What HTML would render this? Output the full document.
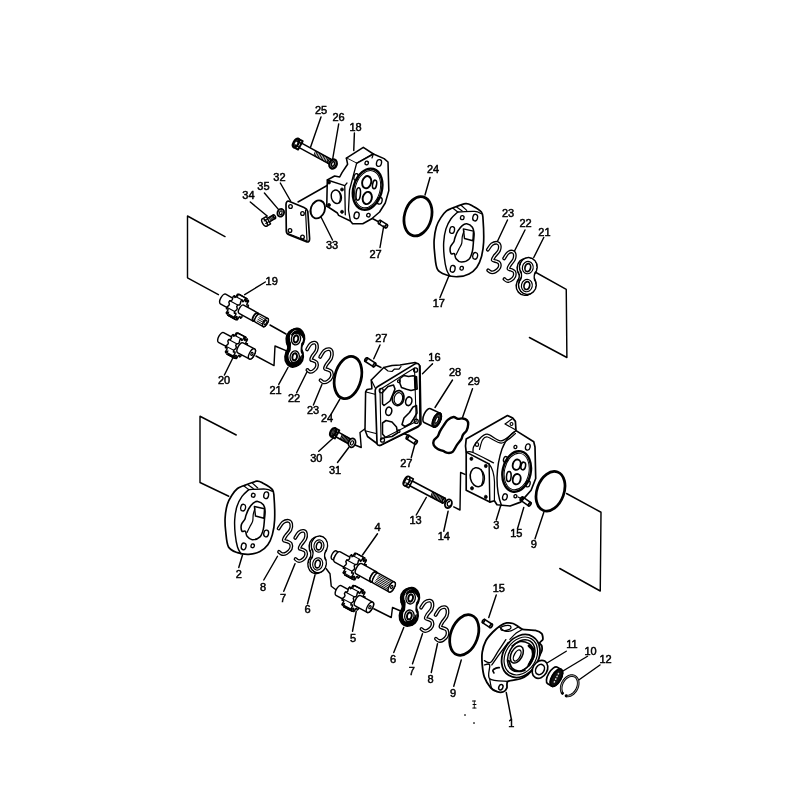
<!DOCTYPE html>
<html><head><meta charset="utf-8"><style>
html,body{margin:0;padding:0;background:#fff;}
svg{display:block;will-change:transform;}
text{font-family:"Liberation Sans",sans-serif;fill:#000;text-anchor:middle;stroke:#000;stroke-width:0.5;}
</style></head><body>
<svg width="800" height="800" viewBox="0 0 800 800">
<rect width="800" height="800" fill="#fff"/>
<path d="M321,117 L310.6,147" fill="none" stroke="#000" stroke-width="1.44" stroke-linejoin="round" stroke-linecap="round"/>
<path d="M338.7,124 L332.5,160" fill="none" stroke="#000" stroke-width="1.44" stroke-linejoin="round" stroke-linecap="round"/>
<path d="M354.4,133 L353.75,150.6" fill="none" stroke="#000" stroke-width="1.44" stroke-linejoin="round" stroke-linecap="round"/>
<path d="M280.3,183 L290.6,201" fill="none" stroke="#000" stroke-width="1.44" stroke-linejoin="round" stroke-linecap="round"/>
<path d="M264.4,193 L278.4,209.4" fill="none" stroke="#000" stroke-width="1.44" stroke-linejoin="round" stroke-linecap="round"/>
<path d="M250.3,202 L267.2,216" fill="none" stroke="#000" stroke-width="1.44" stroke-linejoin="round" stroke-linecap="round"/>
<path d="M298,202 L328,185" fill="none" stroke="#000" stroke-width="1.44" stroke-linejoin="round" stroke-linecap="round"/>
<path d="M332.5,240 L321,217" fill="none" stroke="#000" stroke-width="1.44" stroke-linejoin="round" stroke-linecap="round"/>
<path d="M380,247.5 L383.75,226" fill="none" stroke="#000" stroke-width="1.44" stroke-linejoin="round" stroke-linecap="round"/>
<path d="M380,222.5 L367.5,216" fill="none" stroke="#000" stroke-width="1.44" stroke-linejoin="round" stroke-linecap="round"/>
<path d="M430,177.5 L425,195" fill="none" stroke="#000" stroke-width="1.44" stroke-linejoin="round" stroke-linecap="round"/>
<path d="M448.75,276.25 L440,297.5" fill="none" stroke="#000" stroke-width="1.44" stroke-linejoin="round" stroke-linecap="round"/>
<path d="M507.5,220 L497.5,241.25" fill="none" stroke="#000" stroke-width="1.44" stroke-linejoin="round" stroke-linecap="round"/>
<path d="M525,230 L513.75,252.5" fill="none" stroke="#000" stroke-width="1.44" stroke-linejoin="round" stroke-linecap="round"/>
<path d="M543.75,237.5 L533.75,257.5" fill="none" stroke="#000" stroke-width="1.44" stroke-linejoin="round" stroke-linecap="round"/>
<path d="M533.75,271.25 L566.25,289.4 L566.9,357.5 L529.4,337.5" fill="none" stroke="#000" stroke-width="1.44" stroke-linejoin="round" stroke-linecap="round"/>
<path d="M225,236.6 L187.5,216 L187.5,277.8 L218.4,294.7" fill="none" stroke="#000" stroke-width="1.44" stroke-linejoin="round" stroke-linecap="round"/>
<path d="M265.3,282 L244.7,294.7" fill="none" stroke="#000" stroke-width="1.44" stroke-linejoin="round" stroke-linecap="round"/>
<path d="M270,325 L286,334" fill="none" stroke="#000" stroke-width="1.44" stroke-linejoin="round" stroke-linecap="round"/>
<path d="M256,356 L274,365.6 L275,346 L286,350.6" fill="none" stroke="#000" stroke-width="1.44" stroke-linejoin="round" stroke-linecap="round"/>
<path d="M232.8,358 L224.4,375" fill="none" stroke="#000" stroke-width="1.44" stroke-linejoin="round" stroke-linecap="round"/>
<path d="M288,367.5 L278.75,384.4" fill="none" stroke="#000" stroke-width="1.44" stroke-linejoin="round" stroke-linecap="round"/>
<path d="M306.9,372 L296.6,392.8" fill="none" stroke="#000" stroke-width="1.44" stroke-linejoin="round" stroke-linecap="round"/>
<path d="M321.9,384.4 L313.4,405" fill="none" stroke="#000" stroke-width="1.44" stroke-linejoin="round" stroke-linecap="round"/>
<path d="M339.7,399.4 L331,414.4" fill="none" stroke="#000" stroke-width="1.44" stroke-linejoin="round" stroke-linecap="round"/>
<path d="M380,345 L373.75,358.75" fill="none" stroke="#000" stroke-width="1.44" stroke-linejoin="round" stroke-linecap="round"/>
<path d="M376,365 L381,367.5" fill="none" stroke="#000" stroke-width="1.44" stroke-linejoin="round" stroke-linecap="round"/>
<path d="M432.5,363.75 L422.5,373.75" fill="none" stroke="#000" stroke-width="1.44" stroke-linejoin="round" stroke-linecap="round"/>
<path d="M452.5,380 L435,407.5" fill="none" stroke="#000" stroke-width="1.44" stroke-linejoin="round" stroke-linecap="round"/>
<path d="M472.5,388.75 L462.5,417.5" fill="none" stroke="#000" stroke-width="1.44" stroke-linejoin="round" stroke-linecap="round"/>
<path d="M411.25,457.5 L415,443.75" fill="none" stroke="#000" stroke-width="1.44" stroke-linejoin="round" stroke-linecap="round"/>
<path d="M407.5,435 L395,430" fill="none" stroke="#000" stroke-width="1.44" stroke-linejoin="round" stroke-linecap="round"/>
<path d="M318.75,451.25 L333.75,437.5" fill="none" stroke="#000" stroke-width="1.44" stroke-linejoin="round" stroke-linecap="round"/>
<path d="M337.5,462.5 L348.75,447.5" fill="none" stroke="#000" stroke-width="1.44" stroke-linejoin="round" stroke-linecap="round"/>
<path d="M355,445 L361.25,447.5 L360,432.5 L365,428.75" fill="none" stroke="#000" stroke-width="1.44" stroke-linejoin="round" stroke-linecap="round"/>
<path d="M426.25,497.5 L416.25,515" fill="none" stroke="#000" stroke-width="1.44" stroke-linejoin="round" stroke-linecap="round"/>
<path d="M448.1,511.25 L443.75,531.25" fill="none" stroke="#000" stroke-width="1.44" stroke-linejoin="round" stroke-linecap="round"/>
<path d="M453.75,506.9 L460,510 L460.6,472.5 L465,474.4" fill="none" stroke="#000" stroke-width="1.44" stroke-linejoin="round" stroke-linecap="round"/>
<path d="M501.25,503.75 L496.25,520" fill="none" stroke="#000" stroke-width="1.44" stroke-linejoin="round" stroke-linecap="round"/>
<path d="M523.75,507.5 L517.5,528.75" fill="none" stroke="#000" stroke-width="1.44" stroke-linejoin="round" stroke-linecap="round"/>
<path d="M543.75,512.5 L535,538.75" fill="none" stroke="#000" stroke-width="1.44" stroke-linejoin="round" stroke-linecap="round"/>
<path d="M566.5,493.5 L601,512.25 L600.25,591 L559.75,568.5" fill="none" stroke="#000" stroke-width="1.44" stroke-linejoin="round" stroke-linecap="round"/>
<path d="M236.25,435 L200,416.25 L200,482.5 L228.75,496.25" fill="none" stroke="#000" stroke-width="1.44" stroke-linejoin="round" stroke-linecap="round"/>
<path d="M242.5,555 L238.75,567.5" fill="none" stroke="#000" stroke-width="1.44" stroke-linejoin="round" stroke-linecap="round"/>
<path d="M277.5,556.25 L263.75,580" fill="none" stroke="#000" stroke-width="1.44" stroke-linejoin="round" stroke-linecap="round"/>
<path d="M295,563.75 L283.75,591.25" fill="none" stroke="#000" stroke-width="1.44" stroke-linejoin="round" stroke-linecap="round"/>
<path d="M315,575 L307.5,603.75" fill="none" stroke="#000" stroke-width="1.44" stroke-linejoin="round" stroke-linecap="round"/>
<path d="M377.5,533.75 L362.5,555" fill="none" stroke="#000" stroke-width="1.44" stroke-linejoin="round" stroke-linecap="round"/>
<path d="M326.25,568.75 L330,573.75 L331.25,586.25 L336.25,590" fill="none" stroke="#000" stroke-width="1.44" stroke-linejoin="round" stroke-linecap="round"/>
<path d="M356.25,611.25 L352.5,631.25" fill="none" stroke="#000" stroke-width="1.44" stroke-linejoin="round" stroke-linecap="round"/>
<path d="M373.75,608.75 L391.25,617.5 L392.5,607.5 L401.25,611.25" fill="none" stroke="#000" stroke-width="1.44" stroke-linejoin="round" stroke-linecap="round"/>
<path d="M403.75,627.5 L393.75,652.5" fill="none" stroke="#000" stroke-width="1.44" stroke-linejoin="round" stroke-linecap="round"/>
<path d="M422.5,633.75 L412.5,663.75" fill="none" stroke="#000" stroke-width="1.44" stroke-linejoin="round" stroke-linecap="round"/>
<path d="M437.5,643.75 L431.25,672.5" fill="none" stroke="#000" stroke-width="1.44" stroke-linejoin="round" stroke-linecap="round"/>
<path d="M461.25,660 L453.75,686.25" fill="none" stroke="#000" stroke-width="1.44" stroke-linejoin="round" stroke-linecap="round"/>
<path d="M496.25,595 L488.75,617.5" fill="none" stroke="#000" stroke-width="1.44" stroke-linejoin="round" stroke-linecap="round"/>
<path d="M506.25,692.5 L511.25,718.75" fill="none" stroke="#000" stroke-width="1.44" stroke-linejoin="round" stroke-linecap="round"/>
<path d="M566.25,651.25 L543.75,665" fill="none" stroke="#000" stroke-width="1.44" stroke-linejoin="round" stroke-linecap="round"/>
<path d="M587.5,656.25 L562.5,671.25" fill="none" stroke="#000" stroke-width="1.44" stroke-linejoin="round" stroke-linecap="round"/>
<path d="M600,665 L578.75,680" fill="none" stroke="#000" stroke-width="1.44" stroke-linejoin="round" stroke-linecap="round"/>
<ellipse cx="418" cy="216.25" rx="13.5" ry="20" transform="rotate(15 418 216.25)" fill="none" stroke="#000" stroke-width="2.76"/>
<ellipse cx="348" cy="377.5" rx="13.2" ry="21.5" transform="rotate(14 348 377.5)" fill="none" stroke="#000" stroke-width="2.76"/>
<ellipse cx="550.5" cy="491.25" rx="13.5" ry="20.5" transform="rotate(20 550.5 491.25)" fill="none" stroke="#000" stroke-width="2.76"/>
<ellipse cx="464.25" cy="635" rx="13.5" ry="21" transform="rotate(20 464.25 635)" fill="none" stroke="#000" stroke-width="2.76"/>
<ellipse cx="317.8" cy="209.4" rx="7" ry="9.2" transform="rotate(20 317.8 209.4)" fill="none" stroke="#000" stroke-width="1.92"/>
<g transform="translate(296 143) rotate(28.6)">
<path d="M5,-2.5 L38,-2.5 M5,2.5 L38,2.5" fill="none" stroke="#000" stroke-width="1.44" stroke-linejoin="round" stroke-linecap="round"/>
<ellipse cx="38" cy="0" rx="1.2" ry="2.5" transform="rotate(0 38 0)" fill="#fff" stroke="#000" stroke-width="1.44"/>
<path d="M0,-4.8 L5,-4.8 L5,4.8 L0,4.8" fill="#fff" stroke="#000" stroke-width="1.92" stroke-linejoin="round" stroke-linecap="round"/>
<ellipse cx="0" cy="0" rx="2.4" ry="4.8" transform="rotate(0 0 0)" fill="#333" stroke="#000" stroke-width="2.16"/>
<ellipse cx="0.3" cy="0.5" rx="1.0" ry="2.0" transform="rotate(0 0.3 0.5)" fill="#fff" stroke="#000" stroke-width="0.00"/>
<path d="M0,-2.16 L5,-2.16 M0,2.16 L5,2.16" fill="none" stroke="#000" stroke-width="1.44" stroke-linejoin="round" stroke-linecap="round"/>
<path d="M20.900000000000002,-2.5 L21.700000000000003,2.5 M22.500000000000004,-2.5 L23.300000000000004,2.5 M24.1,-2.5 L24.900000000000002,2.5 M25.700000000000003,-2.5 L26.500000000000004,2.5 M27.300000000000004,-2.5 L28.100000000000005,2.5 M28.900000000000002,-2.5 L29.700000000000003,2.5 M30.500000000000004,-2.5 L31.300000000000004,2.5 M32.1,-2.5 L32.9,2.5 M33.7,-2.5 L34.5,2.5 M35.300000000000004,-2.5 L36.1,2.5 " fill="none" stroke="#000" stroke-width="0.96" stroke-linejoin="round" stroke-linecap="round"/>
</g>
<ellipse cx="333" cy="164" rx="3.6" ry="4.6" transform="rotate(20 333 164)" fill="#fff" stroke="#000" stroke-width="2.40"/>
<ellipse cx="333" cy="164" rx="1.5" ry="2.3" transform="rotate(20 333 164)" fill="none" stroke="#000" stroke-width="1.56"/>
<path d="M346.4,158.2 L363.3,147.3 L373.4,154 L356.6,163.4 Z" fill="#fff" stroke="#000" stroke-width="1.56" stroke-linejoin="round" stroke-linecap="round"/>
<path d="M356.6,163.4 L373.4,154 L384.1,158.6 L388,162 L388.8,190.6 L385.25,203 L379.6,212 L371.75,218.75 L362.75,223.8 L352.6,223.8 L350.4,221 L338.6,215.4 L337.4,213 L329,207.5 L326.75,206.4 L327.3,180 L334.6,176 L339.7,177 L342,172.6 L347.6,164.2 L346.4,158.2" fill="#fff" stroke="#000" stroke-width="1.56" stroke-linejoin="round" stroke-linecap="round"/>
<path d="M356.6,163.4 L353.5,175 L349.5,190 L348.5,210 L350.4,221" fill="none" stroke="#000" stroke-width="1.32" stroke-linejoin="round" stroke-linecap="round"/>
<path d="M373.4,154 L372,158" fill="none" stroke="#000" stroke-width="1.20" stroke-linejoin="round" stroke-linecap="round"/>
<path d="M327.3,180 L344.75,185.6 L345.3,214.8" fill="none" stroke="#000" stroke-width="1.32" stroke-linejoin="round" stroke-linecap="round"/>
<path d="M344.75,185.6 L347,183" fill="none" stroke="#000" stroke-width="1.20" stroke-linejoin="round" stroke-linecap="round"/>
<ellipse cx="329" cy="182.5" rx="1.5" ry="1.6" transform="rotate(0 329 182.5)" fill="#000" stroke="#000" stroke-width="0.72"/>
<ellipse cx="342" cy="189.5" rx="1.5" ry="1.6" transform="rotate(0 342 189.5)" fill="#000" stroke="#000" stroke-width="0.72"/>
<ellipse cx="329" cy="205" rx="1.5" ry="1.6" transform="rotate(0 329 205)" fill="#000" stroke="#000" stroke-width="0.72"/>
<ellipse cx="342" cy="211.8" rx="1.5" ry="1.6" transform="rotate(0 342 211.8)" fill="#000" stroke="#000" stroke-width="0.72"/>
<ellipse cx="336.3" cy="196.8" rx="5" ry="6.8" transform="rotate(-15 336.3 196.8)" fill="none" stroke="#000" stroke-width="1.44"/>
<path d="M339,191.5 Q342,197 339,203" fill="none" stroke="#000" stroke-width="1.20" stroke-linejoin="round" stroke-linecap="round"/>
<ellipse cx="367.6" cy="189.2" rx="14.2" ry="21" transform="rotate(16 367.6 189.2)" fill="none" stroke="#000" stroke-width="2.40"/>
<ellipse cx="367.6" cy="189.2" rx="12.4" ry="19" transform="rotate(16 367.6 189.2)" fill="none" stroke="#000" stroke-width="0.96"/>
<ellipse cx="366.7" cy="182.2" rx="4.5" ry="6.2" transform="rotate(15 366.7 182.2)" fill="none" stroke="#000" stroke-width="1.92"/>
<ellipse cx="367.25" cy="198" rx="4.5" ry="6.2" transform="rotate(15 367.25 198)" fill="none" stroke="#000" stroke-width="1.92"/>
<ellipse cx="374.6" cy="184.4" rx="2" ry="4.3" transform="rotate(10 374.6 184.4)" fill="none" stroke="#000" stroke-width="1.56"/>
<ellipse cx="358.25" cy="194" rx="2.2" ry="6.2" transform="rotate(5 358.25 194)" fill="none" stroke="#000" stroke-width="1.56"/>
<ellipse cx="366.7" cy="163" rx="1.7" ry="1.8" transform="rotate(15 366.7 163)" fill="none" stroke="#000" stroke-width="1.32"/>
<ellipse cx="379" cy="163" rx="2.5" ry="3.4" transform="rotate(15 379 163)" fill="none" stroke="#000" stroke-width="1.32"/>
<ellipse cx="356" cy="177" rx="2" ry="3.4" transform="rotate(15 356 177)" fill="none" stroke="#000" stroke-width="1.32"/>
<ellipse cx="379.6" cy="200.75" rx="2.5" ry="3.4" transform="rotate(15 379.6 200.75)" fill="none" stroke="#000" stroke-width="1.32"/>
<ellipse cx="356.6" cy="215.4" rx="2.5" ry="3.4" transform="rotate(15 356.6 215.4)" fill="none" stroke="#000" stroke-width="1.32"/>
<ellipse cx="368.4" cy="215.15" rx="1.7" ry="1.8" transform="rotate(15 368.4 215.15)" fill="none" stroke="#000" stroke-width="1.32"/>
<g transform="translate(379.5 222) rotate(32)">
<path d="M0,-1.8 L8,-1.8 M0,1.8 L8,1.8" fill="none" stroke="#000" stroke-width="1.44" stroke-linejoin="round" stroke-linecap="round"/>
<ellipse cx="0" cy="0" rx="1" ry="1.8" transform="rotate(0 0 0)" fill="#fff" stroke="#000" stroke-width="1.44"/>
<ellipse cx="8" cy="0" rx="1.1" ry="1.8" transform="rotate(0 8 0)" fill="#fff" stroke="#000" stroke-width="1.68"/>
</g>
<path d="M289,201.3 L304,207.5 Q307,208.7 307.8,211.5 L309.6,238.5 Q309.8,242 307,242 L289.5,235 Q286.3,233.8 286.3,231 L286,204.5 Q286.2,200.5 289,201.3 Z" fill="#fff" stroke="#000" stroke-width="1.68" stroke-linejoin="round" stroke-linecap="round"/>
<path d="M305.5,210 L307,240.5" fill="none" stroke="#000" stroke-width="1.20" stroke-linejoin="round" stroke-linecap="round"/>
<path d="M288,233.5 L306.5,240.8" fill="none" stroke="#000" stroke-width="1.08" stroke-linejoin="round" stroke-linecap="round"/>
<ellipse cx="290.5" cy="206.5" rx="1.8" ry="1.9" transform="rotate(0 290.5 206.5)" fill="none" stroke="#000" stroke-width="1.32"/>
<ellipse cx="302.5" cy="213.5" rx="1.8" ry="1.9" transform="rotate(0 302.5 213.5)" fill="none" stroke="#000" stroke-width="1.32"/>
<ellipse cx="290" cy="230.5" rx="1.8" ry="1.9" transform="rotate(0 290 230.5)" fill="none" stroke="#000" stroke-width="1.32"/>
<ellipse cx="302.5" cy="237" rx="1.8" ry="1.9" transform="rotate(0 302.5 237)" fill="none" stroke="#000" stroke-width="1.32"/>
<g transform="translate(264.5 222.5) rotate(-30.6)">
<path d="M4,-2 L11.5,-2 M4,2 L11.5,2" fill="none" stroke="#000" stroke-width="1.44" stroke-linejoin="round" stroke-linecap="round"/>
<ellipse cx="11.5" cy="0" rx="0.9" ry="2" transform="rotate(0 11.5 0)" fill="#fff" stroke="#000" stroke-width="1.44"/>
<path d="M6.0,-2 L6.7,2 M7.4,-2 L8.1,2 M8.8,-2 L9.5,2 M10.2,-2 L10.899999999999999,2 " fill="none" stroke="#000" stroke-width="0.96" stroke-linejoin="round" stroke-linecap="round"/>
<path d="M0,-4.3 L4.5,-4.3 L4.5,4.3 L0,4.3" fill="#fff" stroke="#000" stroke-width="1.44" stroke-linejoin="round" stroke-linecap="round"/>
<ellipse cx="0" cy="0" rx="2" ry="4.3" transform="rotate(0 0 0)" fill="#fff" stroke="#000" stroke-width="1.44"/>
<path d="M0.5,-1.5 L4.5,-1.5 M0.5,1.5 L4.5,1.5" fill="none" stroke="#000" stroke-width="1.08" stroke-linejoin="round" stroke-linecap="round"/>
</g>
<ellipse cx="280.75" cy="212.75" rx="3.2" ry="3.9" transform="rotate(20 280.75 212.75)" fill="#fff" stroke="#000" stroke-width="1.92"/>
<ellipse cx="280.75" cy="212.75" rx="1.3" ry="2" transform="rotate(20 280.75 212.75)" fill="none" stroke="#000" stroke-width="1.20"/>
<path d="M452.68,208.09 C455.87,206.87 462.34,203.97 465.62,203.59 C468.90,203.22 469.75,204.44 472.37,205.84 C475.00,207.25 479.59,209.68 481.37,212.02 C483.15,214.36 482.69,214.84 483.06,219.90 C483.44,224.96 483.90,236.20 483.62,242.39 C483.34,248.58 482.50,252.89 481.37,257.02 C480.25,261.14 478.93,264.33 476.87,267.14 C474.81,269.95 472.18,272.30 468.99,273.89 C465.80,275.48 461.50,276.51 457.75,276.70 C454.00,276.89 449.88,276.24 446.50,275.02 C443.12,273.80 439.47,272.95 437.50,269.39 C435.53,265.83 435.25,258.51 434.69,253.64 C434.13,248.76 433.84,244.64 434.12,240.14 C434.40,235.64 435.25,230.40 436.37,226.65 C437.50,222.90 439.18,220.28 440.87,217.65 C442.56,215.03 444.53,212.49 446.50,210.90 C448.47,209.31 449.49,209.31 452.68,208.09 Z" fill="#fff" stroke="#000" stroke-width="1.68" stroke-linejoin="round" stroke-linecap="round"/>
<path d="M457.75,212.02 C456.62,213.15 452.97,215.96 451.00,218.77 C449.03,221.58 447.15,224.96 445.93,228.90 C444.71,232.84 443.97,237.70 443.69,242.39 C443.41,247.08 443.78,252.52 444.25,257.02 C444.72,261.52 445.56,266.20 446.50,269.39 C447.44,272.58 449.31,275.01 449.87,276.14" fill="none" stroke="#000" stroke-width="1.44" stroke-linejoin="round" stroke-linecap="round"/>
<path d="M457.75,212.02 C460.56,211.93 470.68,211.18 474.62,211.46 C478.56,211.74 480.25,213.34 481.37,213.71" fill="none" stroke="#000" stroke-width="1.32" stroke-linejoin="round" stroke-linecap="round"/>
<path d="M452.68,208.09 L457.75,212.02 M456.62,206.96 L462.25,210.9 M461.12,205.27 L466.74,210.34" fill="none" stroke="#000" stroke-width="1.20" stroke-linejoin="round" stroke-linecap="round"/>
<path d="M466.74,223.83 C468.43,224.11 471.15,225.62 472.37,227.21 C473.59,228.81 473.87,231.06 474.06,233.40 C474.25,235.74 473.77,238.27 473.49,241.27 C473.21,244.27 473.12,248.39 472.37,251.39 C471.62,254.39 470.87,257.49 468.99,259.27 C467.12,261.05 463.27,262.17 461.12,262.08 C458.97,261.99 457.19,260.11 456.06,258.70 C454.94,257.29 455.21,254.48 454.37,253.64 C453.53,252.80 451.66,254.76 451.00,253.64 C450.34,252.51 449.96,248.86 450.43,246.89 C450.90,244.92 453.06,243.33 453.81,241.83 C454.56,240.33 454.27,239.67 454.93,237.89 C455.59,236.11 456.53,233.21 457.75,231.15 C458.97,229.09 460.75,226.74 462.25,225.52 C463.75,224.30 465.05,223.55 466.74,223.83 Z" fill="none" stroke="#000" stroke-width="1.56" stroke-linejoin="round" stroke-linecap="round"/>
<path d="M463.37,228.9 L473.49,231.15 L472.93,240.71 L464.49,238.46 Z" fill="none" stroke="#000" stroke-width="1.44" stroke-linejoin="round" stroke-linecap="round"/>
<path d="M463.93,231.15 C463.65,232.09 462.62,234.71 462.25,236.77 C461.88,238.83 462.24,241.46 461.68,243.52 C461.12,245.58 459.81,247.26 458.87,249.14 C457.93,251.01 456.53,253.83 456.06,254.77" fill="none" stroke="#000" stroke-width="1.20" stroke-linejoin="round" stroke-linecap="round"/>
<ellipse cx="462.25" cy="217.65" rx="1.8" ry="2.0" transform="rotate(12 462.25 217.65)" fill="none" stroke="#000" stroke-width="1.32"/>
<ellipse cx="475.18" cy="217.65" rx="2.4" ry="3.4" transform="rotate(12 475.18 217.65)" fill="none" stroke="#000" stroke-width="1.32"/>
<ellipse cx="452.12" cy="230.02" rx="2.4" ry="3.4" transform="rotate(12 452.12 230.02)" fill="none" stroke="#000" stroke-width="1.32"/>
<ellipse cx="475.18" cy="255.89" rx="2.4" ry="3.4" transform="rotate(12 475.18 255.89)" fill="none" stroke="#000" stroke-width="1.32"/>
<ellipse cx="452.68" cy="268.83" rx="2.4" ry="3.4" transform="rotate(12 452.68 268.83)" fill="none" stroke="#000" stroke-width="1.32"/>
<ellipse cx="461.68" cy="268.27" rx="1.7" ry="1.9" transform="rotate(12 461.68 268.27)" fill="none" stroke="#000" stroke-width="1.32"/>
<g transform="translate(-209 277.6)">
<path d="M452.68,208.09 C455.87,206.87 462.34,203.97 465.62,203.59 C468.90,203.22 469.75,204.44 472.37,205.84 C475.00,207.25 479.59,209.68 481.37,212.02 C483.15,214.36 482.69,214.84 483.06,219.90 C483.44,224.96 483.90,236.20 483.62,242.39 C483.34,248.58 482.50,252.89 481.37,257.02 C480.25,261.14 478.93,264.33 476.87,267.14 C474.81,269.95 472.18,272.30 468.99,273.89 C465.80,275.48 461.50,276.51 457.75,276.70 C454.00,276.89 449.88,276.24 446.50,275.02 C443.12,273.80 439.47,272.95 437.50,269.39 C435.53,265.83 435.25,258.51 434.69,253.64 C434.13,248.76 433.84,244.64 434.12,240.14 C434.40,235.64 435.25,230.40 436.37,226.65 C437.50,222.90 439.18,220.28 440.87,217.65 C442.56,215.03 444.53,212.49 446.50,210.90 C448.47,209.31 449.49,209.31 452.68,208.09 Z" fill="#fff" stroke="#000" stroke-width="1.68" stroke-linejoin="round" stroke-linecap="round"/>
<path d="M457.75,212.02 C456.62,213.15 452.97,215.96 451.00,218.77 C449.03,221.58 447.15,224.96 445.93,228.90 C444.71,232.84 443.97,237.70 443.69,242.39 C443.41,247.08 443.78,252.52 444.25,257.02 C444.72,261.52 445.56,266.20 446.50,269.39 C447.44,272.58 449.31,275.01 449.87,276.14" fill="none" stroke="#000" stroke-width="1.44" stroke-linejoin="round" stroke-linecap="round"/>
<path d="M457.75,212.02 C460.56,211.93 470.68,211.18 474.62,211.46 C478.56,211.74 480.25,213.34 481.37,213.71" fill="none" stroke="#000" stroke-width="1.32" stroke-linejoin="round" stroke-linecap="round"/>
<path d="M452.68,208.09 L457.75,212.02 M456.62,206.96 L462.25,210.9 M461.12,205.27 L466.74,210.34" fill="none" stroke="#000" stroke-width="1.20" stroke-linejoin="round" stroke-linecap="round"/>
<path d="M466.74,223.83 C468.43,224.11 471.15,225.62 472.37,227.21 C473.59,228.81 473.87,231.06 474.06,233.40 C474.25,235.74 473.77,238.27 473.49,241.27 C473.21,244.27 473.12,248.39 472.37,251.39 C471.62,254.39 470.87,257.49 468.99,259.27 C467.12,261.05 463.27,262.17 461.12,262.08 C458.97,261.99 457.19,260.11 456.06,258.70 C454.94,257.29 455.21,254.48 454.37,253.64 C453.53,252.80 451.66,254.76 451.00,253.64 C450.34,252.51 449.96,248.86 450.43,246.89 C450.90,244.92 453.06,243.33 453.81,241.83 C454.56,240.33 454.27,239.67 454.93,237.89 C455.59,236.11 456.53,233.21 457.75,231.15 C458.97,229.09 460.75,226.74 462.25,225.52 C463.75,224.30 465.05,223.55 466.74,223.83 Z" fill="none" stroke="#000" stroke-width="1.56" stroke-linejoin="round" stroke-linecap="round"/>
<path d="M463.37,228.9 L473.49,231.15 L472.93,240.71 L464.49,238.46 Z" fill="none" stroke="#000" stroke-width="1.44" stroke-linejoin="round" stroke-linecap="round"/>
<path d="M463.93,231.15 C463.65,232.09 462.62,234.71 462.25,236.77 C461.88,238.83 462.24,241.46 461.68,243.52 C461.12,245.58 459.81,247.26 458.87,249.14 C457.93,251.01 456.53,253.83 456.06,254.77" fill="none" stroke="#000" stroke-width="1.20" stroke-linejoin="round" stroke-linecap="round"/>
<ellipse cx="462.25" cy="217.65" rx="1.8" ry="2.0" transform="rotate(12 462.25 217.65)" fill="none" stroke="#000" stroke-width="1.32"/>
<ellipse cx="475.18" cy="217.65" rx="2.4" ry="3.4" transform="rotate(12 475.18 217.65)" fill="none" stroke="#000" stroke-width="1.32"/>
<ellipse cx="452.12" cy="230.02" rx="2.4" ry="3.4" transform="rotate(12 452.12 230.02)" fill="none" stroke="#000" stroke-width="1.32"/>
<ellipse cx="475.18" cy="255.89" rx="2.4" ry="3.4" transform="rotate(12 475.18 255.89)" fill="none" stroke="#000" stroke-width="1.32"/>
<ellipse cx="452.68" cy="268.83" rx="2.4" ry="3.4" transform="rotate(12 452.68 268.83)" fill="none" stroke="#000" stroke-width="1.32"/>
<ellipse cx="461.68" cy="268.27" rx="1.7" ry="1.9" transform="rotate(12 461.68 268.27)" fill="none" stroke="#000" stroke-width="1.32"/>
</g>
<path d="M487.83,249.69 C488.51,248.80 490.36,245.49 491.90,244.34 C493.44,243.19 495.79,242.62 497.08,242.81 C498.38,243.00 499.36,244.15 499.67,245.49 C499.98,246.82 499.79,249.05 498.93,250.84 C498.07,252.62 495.54,254.66 494.49,256.19 C493.44,257.71 492.40,259.18 492.64,260.01 C492.89,260.83 494.86,260.64 495.97,261.15 C497.08,261.66 498.75,261.98 499.30,263.06 C499.86,264.15 499.98,266.25 499.30,267.65 C498.62,269.05 496.59,270.71 495.23,271.47 C493.87,272.23 492.33,272.42 491.16,272.23 C489.99,272.04 488.70,270.64 488.20,270.32" fill="none" stroke="#000" stroke-width="3.8" stroke-linejoin="round" stroke-linecap="round"/><path d="M487.83,249.69 C488.51,248.80 490.36,245.49 491.90,244.34 C493.44,243.19 495.79,242.62 497.08,242.81 C498.38,243.00 499.36,244.15 499.67,245.49 C499.98,246.82 499.79,249.05 498.93,250.84 C498.07,252.62 495.54,254.66 494.49,256.19 C493.44,257.71 492.40,259.18 492.64,260.01 C492.89,260.83 494.86,260.64 495.97,261.15 C497.08,261.66 498.75,261.98 499.30,263.06 C499.86,264.15 499.98,266.25 499.30,267.65 C498.62,269.05 496.59,270.71 495.23,271.47 C493.87,272.23 492.33,272.42 491.16,272.23 C489.99,272.04 488.70,270.64 488.20,270.32" fill="none" stroke="#fff" stroke-width="1.2" stroke-linejoin="round" stroke-linecap="round"/>
<path d="M504.13,258.44 C504.74,257.55 506.38,254.24 507.75,253.09 C509.13,251.94 511.21,251.37 512.36,251.56 C513.52,251.75 514.40,252.90 514.67,254.24 C514.94,255.57 514.78,257.80 514.01,259.59 C513.24,261.37 510.99,263.41 510.06,264.94 C509.13,266.46 508.19,267.93 508.41,268.76 C508.63,269.58 510.39,269.39 511.38,269.90 C512.36,270.41 513.85,270.73 514.34,271.81 C514.83,272.90 514.94,275.00 514.34,276.40 C513.74,277.80 511.93,279.46 510.72,280.22 C509.51,280.98 508.14,281.17 507.10,280.98 C506.05,280.79 504.90,279.39 504.46,279.07" fill="none" stroke="#000" stroke-width="3.8" stroke-linejoin="round" stroke-linecap="round"/><path d="M504.13,258.44 C504.74,257.55 506.38,254.24 507.75,253.09 C509.13,251.94 511.21,251.37 512.36,251.56 C513.52,251.75 514.40,252.90 514.67,254.24 C514.94,255.57 514.78,257.80 514.01,259.59 C513.24,261.37 510.99,263.41 510.06,264.94 C509.13,266.46 508.19,267.93 508.41,268.76 C508.63,269.58 510.39,269.39 511.38,269.90 C512.36,270.41 513.85,270.73 514.34,271.81 C514.83,272.90 514.94,275.00 514.34,276.40 C513.74,277.80 511.93,279.46 510.72,280.22 C509.51,280.98 508.14,281.17 507.10,280.98 C506.05,280.79 504.90,279.39 504.46,279.07" fill="none" stroke="#fff" stroke-width="1.2" stroke-linejoin="round" stroke-linecap="round"/>
<path d="M307.06,349.47 C307.62,348.59 309.17,345.31 310.46,344.18 C311.74,343.05 313.70,342.48 314.78,342.67 C315.86,342.86 316.69,343.99 316.94,345.31 C317.20,346.64 317.05,348.84 316.33,350.61 C315.61,352.37 313.49,354.39 312.62,355.90 C311.74,357.41 310.87,358.86 311.07,359.68 C311.28,360.50 312.93,360.31 313.85,360.81 C314.78,361.32 316.17,361.63 316.64,362.70 C317.10,363.78 317.20,365.85 316.64,367.24 C316.07,368.63 314.37,370.26 313.24,371.02 C312.10,371.78 310.82,371.97 309.84,371.78 C308.86,371.59 307.78,370.20 307.37,369.89" fill="none" stroke="#000" stroke-width="3.8" stroke-linejoin="round" stroke-linecap="round"/><path d="M307.06,349.47 C307.62,348.59 309.17,345.31 310.46,344.18 C311.74,343.05 313.70,342.48 314.78,342.67 C315.86,342.86 316.69,343.99 316.94,345.31 C317.20,346.64 317.05,348.84 316.33,350.61 C315.61,352.37 313.49,354.39 312.62,355.90 C311.74,357.41 310.87,358.86 311.07,359.68 C311.28,360.50 312.93,360.31 313.85,360.81 C314.78,361.32 316.17,361.63 316.64,362.70 C317.10,363.78 317.20,365.85 316.64,367.24 C316.07,368.63 314.37,370.26 313.24,371.02 C312.10,371.78 310.82,371.97 309.84,371.78 C308.86,371.59 307.78,370.20 307.37,369.89" fill="none" stroke="#fff" stroke-width="1.2" stroke-linejoin="round" stroke-linecap="round"/>
<path d="M320.15,356.94 C320.82,355.94 322.65,352.20 324.17,350.91 C325.70,349.62 328.01,348.97 329.29,349.19 C330.57,349.40 331.55,350.69 331.86,352.20 C332.16,353.71 331.98,356.22 331.12,358.23 C330.27,360.25 327.77,362.54 326.73,364.27 C325.70,365.99 324.66,367.64 324.90,368.58 C325.15,369.51 327.10,369.29 328.20,369.87 C329.29,370.44 330.94,370.80 331.49,372.02 C332.04,373.24 332.16,375.61 331.49,377.19 C330.82,378.77 328.81,380.64 327.46,381.50 C326.12,382.36 324.60,382.58 323.44,382.36 C322.28,382.15 321.00,380.57 320.51,380.21" fill="none" stroke="#000" stroke-width="3.8" stroke-linejoin="round" stroke-linecap="round"/><path d="M320.15,356.94 C320.82,355.94 322.65,352.20 324.17,350.91 C325.70,349.62 328.01,348.97 329.29,349.19 C330.57,349.40 331.55,350.69 331.86,352.20 C332.16,353.71 331.98,356.22 331.12,358.23 C330.27,360.25 327.77,362.54 326.73,364.27 C325.70,365.99 324.66,367.64 324.90,368.58 C325.15,369.51 327.10,369.29 328.20,369.87 C329.29,370.44 330.94,370.80 331.49,372.02 C332.04,373.24 332.16,375.61 331.49,377.19 C330.82,378.77 328.81,380.64 327.46,381.50 C326.12,382.36 324.60,382.58 323.44,382.36 C322.28,382.15 321.00,380.57 320.51,380.21" fill="none" stroke="#fff" stroke-width="1.2" stroke-linejoin="round" stroke-linecap="round"/>
<path d="M278.59,528.59 C279.32,527.59 281.29,523.85 282.93,522.56 C284.57,521.27 287.07,520.62 288.45,520.84 C289.83,521.05 290.88,522.34 291.21,523.85 C291.54,525.36 291.34,527.87 290.42,529.88 C289.50,531.90 286.81,534.19 285.69,535.92 C284.57,537.64 283.46,539.29 283.72,540.23 C283.98,541.16 286.08,540.94 287.27,541.52 C288.45,542.09 290.22,542.45 290.82,543.67 C291.41,544.89 291.54,547.26 290.82,548.84 C290.09,550.42 287.92,552.29 286.48,553.15 C285.03,554.01 283.39,554.23 282.14,554.01 C280.89,553.80 279.51,552.22 278.99,551.86" fill="none" stroke="#000" stroke-width="3.8" stroke-linejoin="round" stroke-linecap="round"/><path d="M278.59,528.59 C279.32,527.59 281.29,523.85 282.93,522.56 C284.57,521.27 287.07,520.62 288.45,520.84 C289.83,521.05 290.88,522.34 291.21,523.85 C291.54,525.36 291.34,527.87 290.42,529.88 C289.50,531.90 286.81,534.19 285.69,535.92 C284.57,537.64 283.46,539.29 283.72,540.23 C283.98,541.16 286.08,540.94 287.27,541.52 C288.45,542.09 290.22,542.45 290.82,543.67 C291.41,544.89 291.54,547.26 290.82,548.84 C290.09,550.42 287.92,552.29 286.48,553.15 C285.03,554.01 283.39,554.23 282.14,554.01 C280.89,553.80 279.51,552.22 278.99,551.86" fill="none" stroke="#fff" stroke-width="1.2" stroke-linejoin="round" stroke-linecap="round"/>
<path d="M295.20,537.92 C295.82,537.01 297.51,533.63 298.91,532.46 C300.32,531.29 302.46,530.70 303.64,530.90 C304.82,531.09 305.72,532.26 306.00,533.63 C306.28,535.00 306.11,537.27 305.32,539.09 C304.54,540.91 302.23,543.00 301.28,544.56 C300.32,546.12 299.36,547.61 299.59,548.46 C299.81,549.31 301.61,549.11 302.63,549.63 C303.64,550.15 305.16,550.48 305.66,551.58 C306.17,552.69 306.28,554.83 305.66,556.26 C305.04,557.70 303.19,559.39 301.95,560.17 C300.71,560.95 299.31,561.14 298.24,560.95 C297.17,560.75 295.99,559.32 295.54,559.00" fill="none" stroke="#000" stroke-width="3.8" stroke-linejoin="round" stroke-linecap="round"/><path d="M295.20,537.92 C295.82,537.01 297.51,533.63 298.91,532.46 C300.32,531.29 302.46,530.70 303.64,530.90 C304.82,531.09 305.72,532.26 306.00,533.63 C306.28,535.00 306.11,537.27 305.32,539.09 C304.54,540.91 302.23,543.00 301.28,544.56 C300.32,546.12 299.36,547.61 299.59,548.46 C299.81,549.31 301.61,549.11 302.63,549.63 C303.64,550.15 305.16,550.48 305.66,551.58 C306.17,552.69 306.28,554.83 305.66,556.26 C305.04,557.70 303.19,559.39 301.95,560.17 C300.71,560.95 299.31,561.14 298.24,560.95 C297.17,560.75 295.99,559.32 295.54,559.00" fill="none" stroke="#fff" stroke-width="1.2" stroke-linejoin="round" stroke-linecap="round"/>
<path d="M421.09,607.69 C421.74,606.77 423.51,603.35 424.98,602.17 C426.46,600.99 428.70,600.40 429.93,600.59 C431.17,600.79 432.12,601.97 432.41,603.35 C432.70,604.73 432.53,607.03 431.70,608.87 C430.88,610.71 428.46,612.82 427.46,614.39 C426.46,615.97 425.45,617.48 425.69,618.34 C425.93,619.19 427.81,618.99 428.87,619.52 C429.93,620.04 431.53,620.37 432.06,621.49 C432.59,622.61 432.70,624.78 432.06,626.22 C431.41,627.67 429.46,629.38 428.17,630.17 C426.87,630.95 425.40,631.15 424.28,630.95 C423.16,630.76 421.92,629.31 421.45,628.98" fill="none" stroke="#000" stroke-width="3.8" stroke-linejoin="round" stroke-linecap="round"/><path d="M421.09,607.69 C421.74,606.77 423.51,603.35 424.98,602.17 C426.46,600.99 428.70,600.40 429.93,600.59 C431.17,600.79 432.12,601.97 432.41,603.35 C432.70,604.73 432.53,607.03 431.70,608.87 C430.88,610.71 428.46,612.82 427.46,614.39 C426.46,615.97 425.45,617.48 425.69,618.34 C425.93,619.19 427.81,618.99 428.87,619.52 C429.93,620.04 431.53,620.37 432.06,621.49 C432.59,622.61 432.70,624.78 432.06,626.22 C431.41,627.67 429.46,629.38 428.17,630.17 C426.87,630.95 425.40,631.15 424.28,630.95 C423.16,630.76 421.92,629.31 421.45,628.98" fill="none" stroke="#fff" stroke-width="1.2" stroke-linejoin="round" stroke-linecap="round"/>
<path d="M435.58,615.03 C436.26,614.00 438.11,610.20 439.65,608.88 C441.19,607.56 443.54,606.90 444.83,607.12 C446.13,607.34 447.11,608.66 447.42,610.20 C447.73,611.73 447.54,614.29 446.68,616.34 C445.82,618.39 443.29,620.73 442.24,622.49 C441.19,624.25 440.15,625.93 440.39,626.88 C440.64,627.83 442.61,627.61 443.72,628.20 C444.83,628.78 446.50,629.15 447.05,630.39 C447.61,631.64 447.73,634.05 447.05,635.66 C446.37,637.27 444.34,639.17 442.98,640.05 C441.62,640.93 440.08,641.15 438.91,640.93 C437.74,640.71 436.45,639.10 435.95,638.73" fill="none" stroke="#000" stroke-width="3.8" stroke-linejoin="round" stroke-linecap="round"/><path d="M435.58,615.03 C436.26,614.00 438.11,610.20 439.65,608.88 C441.19,607.56 443.54,606.90 444.83,607.12 C446.13,607.34 447.11,608.66 447.42,610.20 C447.73,611.73 447.54,614.29 446.68,616.34 C445.82,618.39 443.29,620.73 442.24,622.49 C441.19,624.25 440.15,625.93 440.39,626.88 C440.64,627.83 442.61,627.61 443.72,628.20 C444.83,628.78 446.50,629.15 447.05,630.39 C447.61,631.64 447.73,634.05 447.05,635.66 C446.37,637.27 444.34,639.17 442.98,640.05 C441.62,640.93 440.08,641.15 438.91,640.93 C437.74,640.71 436.45,639.10 435.95,638.73" fill="none" stroke="#fff" stroke-width="1.2" stroke-linejoin="round" stroke-linecap="round"/>
<g transform="translate(527.85 276.0) rotate(3) scale(1.0 1.0)">
<ellipse cx="-2.3" cy="-8.0" rx="8.8" ry="9.4" transform="rotate(0 -2.3 -8.0)" fill="#fff" stroke="#000" stroke-width="1.68"/>
<ellipse cx="-2.3" cy="10.0" rx="8.8" ry="9.4" transform="rotate(0 -2.3 10.0)" fill="#fff" stroke="#000" stroke-width="1.68"/>
<path d="M-10.0,-3.5 Q-6.8999999999999995,1.0 -10.0,5.5 L5.4,5.5 Q2.3,1.0 5.4,-3.5 Z" fill="#fff" stroke="#000" stroke-width="1.68" stroke-linejoin="round" stroke-linecap="round"/>
<ellipse cx="-2.3" cy="-8.0" rx="7.960000000000001" ry="8.56" transform="rotate(0 -2.3 -8.0)" fill="#fff" stroke="#000" stroke-width="0.00"/>
<ellipse cx="-2.3" cy="10.0" rx="7.960000000000001" ry="8.56" transform="rotate(0 -2.3 10.0)" fill="#fff" stroke="#000" stroke-width="0.00"/>
<rect x="-7.8999999999999995" y="-8.0" width="11.2" height="18.0" fill="#fff"/>
<ellipse cx="0" cy="-9.0" rx="8.8" ry="9.4" transform="rotate(0 0 -9.0)" fill="#fff" stroke="#000" stroke-width="1.68"/>
<ellipse cx="0" cy="9.0" rx="8.8" ry="9.4" transform="rotate(0 0 9.0)" fill="#fff" stroke="#000" stroke-width="1.68"/>
<path d="M-7.7,-4.5 Q-4.6,0 -7.7,4.5 L7.7,4.5 Q4.6,0 7.7,-4.5 Z" fill="#fff" stroke="#000" stroke-width="1.68" stroke-linejoin="round" stroke-linecap="round"/>
<ellipse cx="0" cy="-9.0" rx="7.960000000000001" ry="8.56" transform="rotate(0 0 -9.0)" fill="#fff" stroke="#000" stroke-width="0.00"/>
<ellipse cx="0" cy="9.0" rx="7.960000000000001" ry="8.56" transform="rotate(0 0 9.0)" fill="#fff" stroke="#000" stroke-width="0.00"/>
<rect x="-5.6" y="-9.0" width="11.2" height="18.0" fill="#fff"/>
<ellipse cx="-0.5" cy="-8.4" rx="5.4" ry="6.2" transform="rotate(10 -0.5 -8.4)" fill="none" stroke="#000" stroke-width="1.20"/>
<ellipse cx="-0.5" cy="-8.4" rx="2.8" ry="4.0" transform="rotate(10 -0.5 -8.4)" fill="#fff" stroke="#000" stroke-width="1.68"/>
<ellipse cx="-0.5" cy="9.6" rx="5.4" ry="6.2" transform="rotate(10 -0.5 9.6)" fill="none" stroke="#000" stroke-width="1.20"/>
<ellipse cx="-0.5" cy="9.6" rx="2.8" ry="4.0" transform="rotate(10 -0.5 9.6)" fill="#fff" stroke="#000" stroke-width="1.68"/>
</g>
<g transform="translate(295.8 347.3) rotate(4) scale(0.88 1.0)">
<ellipse cx="-2.3" cy="-8.0" rx="8.8" ry="9.4" transform="rotate(0 -2.3 -8.0)" fill="#000" stroke="#000" stroke-width="2.76"/>
<ellipse cx="-2.3" cy="10.0" rx="8.8" ry="9.4" transform="rotate(0 -2.3 10.0)" fill="#000" stroke="#000" stroke-width="2.76"/>
<path d="M-10.0,-3.5 Q-6.8999999999999995,1.0 -10.0,5.5 L5.4,5.5 Q2.3,1.0 5.4,-3.5 Z" fill="#000" stroke="#000" stroke-width="2.76" stroke-linejoin="round" stroke-linecap="round"/>
<ellipse cx="-2.3" cy="-8.0" rx="7.420000000000001" ry="8.02" transform="rotate(0 -2.3 -8.0)" fill="#000" stroke="#000" stroke-width="0.00"/>
<ellipse cx="-2.3" cy="10.0" rx="7.420000000000001" ry="8.02" transform="rotate(0 -2.3 10.0)" fill="#000" stroke="#000" stroke-width="0.00"/>
<rect x="-7.8999999999999995" y="-8.0" width="11.2" height="18.0" fill="#000"/>
<ellipse cx="0" cy="-9.0" rx="8.8" ry="9.4" transform="rotate(0 0 -9.0)" fill="#fff" stroke="#000" stroke-width="2.76"/>
<ellipse cx="0" cy="9.0" rx="8.8" ry="9.4" transform="rotate(0 0 9.0)" fill="#fff" stroke="#000" stroke-width="2.76"/>
<path d="M-7.7,-4.5 Q-4.6,0 -7.7,4.5 L7.7,4.5 Q4.6,0 7.7,-4.5 Z" fill="#fff" stroke="#000" stroke-width="2.76" stroke-linejoin="round" stroke-linecap="round"/>
<ellipse cx="0" cy="-9.0" rx="7.420000000000001" ry="8.02" transform="rotate(0 0 -9.0)" fill="#fff" stroke="#000" stroke-width="0.00"/>
<ellipse cx="0" cy="9.0" rx="7.420000000000001" ry="8.02" transform="rotate(0 0 9.0)" fill="#fff" stroke="#000" stroke-width="0.00"/>
<rect x="-5.6" y="-9.0" width="11.2" height="18.0" fill="#fff"/>
<ellipse cx="-0.5" cy="-8.4" rx="5.2" ry="6.0" transform="rotate(10 -0.5 -8.4)" fill="none" stroke="#000" stroke-width="1.44"/>
<ellipse cx="-0.5" cy="-8.4" rx="2.6" ry="3.6" transform="rotate(10 -0.5 -8.4)" fill="#fff" stroke="#000" stroke-width="2.16"/>
<path d="M-6,-12.0 Q-3,-17.2 3,-16.8 Q7,-15.0 7.5,-10.0 Q5,-14.0 1,-14.5 Q-4,-14.0 -6,-12.0 Z" fill="#000" stroke="#000" stroke-width="1.20" stroke-linejoin="round" stroke-linecap="round"/>
<ellipse cx="-0.5" cy="9.6" rx="5.2" ry="6.0" transform="rotate(10 -0.5 9.6)" fill="none" stroke="#000" stroke-width="1.44"/>
<ellipse cx="-0.5" cy="9.6" rx="2.6" ry="3.6" transform="rotate(10 -0.5 9.6)" fill="#fff" stroke="#000" stroke-width="2.16"/>
<path d="M7,8.0 Q7.5,14.0 3,16.8 Q-2,18.0 -6,16.0 Q-1,16.0 3,13.5 Q6,11.0 7,8.0 Z" fill="#000" stroke="#000" stroke-width="1.20" stroke-linejoin="round" stroke-linecap="round"/>
</g>
<g transform="translate(318.8 554.4) rotate(4) scale(0.92 1.0)">
<ellipse cx="-2.3" cy="-8.0" rx="8.8" ry="9.4" transform="rotate(0 -2.3 -8.0)" fill="#fff" stroke="#000" stroke-width="1.68"/>
<ellipse cx="-2.3" cy="10.0" rx="8.8" ry="9.4" transform="rotate(0 -2.3 10.0)" fill="#fff" stroke="#000" stroke-width="1.68"/>
<path d="M-10.0,-3.5 Q-6.8999999999999995,1.0 -10.0,5.5 L5.4,5.5 Q2.3,1.0 5.4,-3.5 Z" fill="#fff" stroke="#000" stroke-width="1.68" stroke-linejoin="round" stroke-linecap="round"/>
<ellipse cx="-2.3" cy="-8.0" rx="7.960000000000001" ry="8.56" transform="rotate(0 -2.3 -8.0)" fill="#fff" stroke="#000" stroke-width="0.00"/>
<ellipse cx="-2.3" cy="10.0" rx="7.960000000000001" ry="8.56" transform="rotate(0 -2.3 10.0)" fill="#fff" stroke="#000" stroke-width="0.00"/>
<rect x="-7.8999999999999995" y="-8.0" width="11.2" height="18.0" fill="#fff"/>
<ellipse cx="0" cy="-9.0" rx="8.8" ry="9.4" transform="rotate(0 0 -9.0)" fill="#fff" stroke="#000" stroke-width="1.68"/>
<ellipse cx="0" cy="9.0" rx="8.8" ry="9.4" transform="rotate(0 0 9.0)" fill="#fff" stroke="#000" stroke-width="1.68"/>
<path d="M-7.7,-4.5 Q-4.6,0 -7.7,4.5 L7.7,4.5 Q4.6,0 7.7,-4.5 Z" fill="#fff" stroke="#000" stroke-width="1.68" stroke-linejoin="round" stroke-linecap="round"/>
<ellipse cx="0" cy="-9.0" rx="7.960000000000001" ry="8.56" transform="rotate(0 0 -9.0)" fill="#fff" stroke="#000" stroke-width="0.00"/>
<ellipse cx="0" cy="9.0" rx="7.960000000000001" ry="8.56" transform="rotate(0 0 9.0)" fill="#fff" stroke="#000" stroke-width="0.00"/>
<rect x="-5.6" y="-9.0" width="11.2" height="18.0" fill="#fff"/>
<ellipse cx="-0.5" cy="-8.4" rx="5.4" ry="6.2" transform="rotate(10 -0.5 -8.4)" fill="none" stroke="#000" stroke-width="1.20"/>
<ellipse cx="-0.5" cy="-8.4" rx="2.8" ry="4.0" transform="rotate(10 -0.5 -8.4)" fill="#fff" stroke="#000" stroke-width="1.68"/>
<ellipse cx="-0.5" cy="9.6" rx="5.4" ry="6.2" transform="rotate(10 -0.5 9.6)" fill="none" stroke="#000" stroke-width="1.20"/>
<ellipse cx="-0.5" cy="9.6" rx="2.8" ry="4.0" transform="rotate(10 -0.5 9.6)" fill="#fff" stroke="#000" stroke-width="1.68"/>
</g>
<g transform="translate(410.5 606.4) rotate(4) scale(0.9 1.0)">
<ellipse cx="-2.3" cy="-8.0" rx="8.8" ry="9.4" transform="rotate(0 -2.3 -8.0)" fill="#000" stroke="#000" stroke-width="2.76"/>
<ellipse cx="-2.3" cy="10.0" rx="8.8" ry="9.4" transform="rotate(0 -2.3 10.0)" fill="#000" stroke="#000" stroke-width="2.76"/>
<path d="M-10.0,-3.5 Q-6.8999999999999995,1.0 -10.0,5.5 L5.4,5.5 Q2.3,1.0 5.4,-3.5 Z" fill="#000" stroke="#000" stroke-width="2.76" stroke-linejoin="round" stroke-linecap="round"/>
<ellipse cx="-2.3" cy="-8.0" rx="7.420000000000001" ry="8.02" transform="rotate(0 -2.3 -8.0)" fill="#000" stroke="#000" stroke-width="0.00"/>
<ellipse cx="-2.3" cy="10.0" rx="7.420000000000001" ry="8.02" transform="rotate(0 -2.3 10.0)" fill="#000" stroke="#000" stroke-width="0.00"/>
<rect x="-7.8999999999999995" y="-8.0" width="11.2" height="18.0" fill="#000"/>
<ellipse cx="0" cy="-9.0" rx="8.8" ry="9.4" transform="rotate(0 0 -9.0)" fill="#fff" stroke="#000" stroke-width="2.76"/>
<ellipse cx="0" cy="9.0" rx="8.8" ry="9.4" transform="rotate(0 0 9.0)" fill="#fff" stroke="#000" stroke-width="2.76"/>
<path d="M-7.7,-4.5 Q-4.6,0 -7.7,4.5 L7.7,4.5 Q4.6,0 7.7,-4.5 Z" fill="#fff" stroke="#000" stroke-width="2.76" stroke-linejoin="round" stroke-linecap="round"/>
<ellipse cx="0" cy="-9.0" rx="7.420000000000001" ry="8.02" transform="rotate(0 0 -9.0)" fill="#fff" stroke="#000" stroke-width="0.00"/>
<ellipse cx="0" cy="9.0" rx="7.420000000000001" ry="8.02" transform="rotate(0 0 9.0)" fill="#fff" stroke="#000" stroke-width="0.00"/>
<rect x="-5.6" y="-9.0" width="11.2" height="18.0" fill="#fff"/>
<ellipse cx="-0.5" cy="-8.4" rx="5.2" ry="6.0" transform="rotate(10 -0.5 -8.4)" fill="none" stroke="#000" stroke-width="1.44"/>
<ellipse cx="-0.5" cy="-8.4" rx="2.6" ry="3.6" transform="rotate(10 -0.5 -8.4)" fill="#fff" stroke="#000" stroke-width="2.16"/>
<path d="M-6,-12.0 Q-3,-17.2 3,-16.8 Q7,-15.0 7.5,-10.0 Q5,-14.0 1,-14.5 Q-4,-14.0 -6,-12.0 Z" fill="#000" stroke="#000" stroke-width="1.20" stroke-linejoin="round" stroke-linecap="round"/>
<ellipse cx="-0.5" cy="9.6" rx="5.2" ry="6.0" transform="rotate(10 -0.5 9.6)" fill="none" stroke="#000" stroke-width="1.44"/>
<ellipse cx="-0.5" cy="9.6" rx="2.6" ry="3.6" transform="rotate(10 -0.5 9.6)" fill="#fff" stroke="#000" stroke-width="2.16"/>
<path d="M7,8.0 Q7.5,14.0 3,16.8 Q-2,18.0 -6,16.0 Q-1,16.0 3,13.5 Q6,11.0 7,8.0 Z" fill="#000" stroke="#000" stroke-width="1.20" stroke-linejoin="round" stroke-linecap="round"/>
</g>
<g transform="translate(223 299) rotate(29)">
<path d="M0,-5.5 L12,-5.5 A2.475,5.5 0 0 1 12,5.5 L0,5.5 A2.475,5.5 0 0 1 0,-5.5 Z" fill="#fff" stroke="#000" stroke-width="1.44" stroke-linejoin="round" stroke-linecap="round"/>
<ellipse cx="12" cy="0" rx="2.475" ry="5.5" transform="rotate(0 12 0)" fill="#fff" stroke="#000" stroke-width="1.44"/>
<path d="M12,-11.8 L21,-11.8 L21,11.8 L12,11.8 Z" fill="#fff" stroke="#000" stroke-width="1.44" stroke-linejoin="round" stroke-linecap="round"/>
<path d="M17.310000000000002,0.0 L17.244625088560184,1.8459266874747244 L15.766183804528808,2.7193495504995373 L15.528385835785937,3.9951163977080117 L16.29588024013097,6.935865977051184 L15.754737008100568,8.34386001800126 L14.327629599078193,7.119349550499538 L13.797802378968605,7.840857412857638 L13.640880240130972,11.222466892282812 L12.830667009363626,11.654722419022626 L12.0,8.8 L11.380519518440687,8.691657397237213 L10.35911975986903,11.222466892282814 L9.589310446383006,10.513876985422742 L9.672370400921807,7.119349550499538 L9.199857146501271,6.222539674441619 L7.704119759869029,6.935865977051185 L7.268755356559766,5.357087896926653 L8.233816195471192,2.719349550499538 L8.088754171243254,1.3766232923540327 L6.6899999999999995,1.4450832229938768e-15 L6.755374911439818,-1.8459266874747227 L8.23381619547119,-2.719349550499533 L8.471614164214063,-3.9951163977080113 L7.704119759869028,-6.935865977051182 L8.24526299189943,-8.34386001800126 L9.672370400921807,-7.119349550499537 L10.202197621031393,-7.840857412857638 L10.359119759869028,-11.222466892282812 L11.169332990636374,-11.654722419022626 L12.0,-8.8 L12.619480481559314,-8.691657397237213 L13.64088024013097,-11.222466892282814 L14.410689553616994,-10.513876985422742 L14.327629599078193,-7.119349550499539 L14.800142853498727,-6.22253967444162 L16.29588024013097,-6.935865977051186 L16.731244643440235,-5.357087896926655 L15.766183804528808,-2.719349550499539 L15.911245828756746,-1.376623292354034 Z" fill="#fff" stroke="#000" stroke-width="1.44" stroke-linejoin="round" stroke-linecap="round"/>
<path d="M12,-11.8 L21,-11.8 M12,11.8 L21,11.8" fill="none" stroke="#000" stroke-width="1.44" stroke-linejoin="round" stroke-linecap="round"/>
<rect x="12" y="-11.200000000000001" width="9" height="22.400000000000002" fill="#fff"/>
<path d="M12.830667009363626,11.654722419022626 L21.830667009363626,11.654722419022626 M9.589310446383006,10.513876985422742 L18.589310446383006,10.513876985422742 M7.268755356559766,5.357087896926653 L16.268755356559765,5.357087896926653 M6.755374911439818,-1.8459266874747227 L15.755374911439818,-1.8459266874747227 M8.24526299189943,-8.34386001800126 L17.24526299189943,-8.34386001800126 M11.169332990636374,-11.654722419022626 L20.169332990636374,-11.654722419022626 " fill="none" stroke="#000" stroke-width="1.08" stroke-linejoin="round" stroke-linecap="round"/>
<path d="M26.310000000000002,0.0 L26.244625088560184,1.8459266874747244 L24.766183804528808,2.7193495504995373 L24.528385835785937,3.9951163977080117 L25.29588024013097,6.935865977051184 L24.75473700810057,8.34386001800126 L23.327629599078193,7.119349550499538 L22.797802378968605,7.840857412857638 L22.640880240130972,11.222466892282812 L21.830667009363626,11.654722419022626 L21.0,8.8 L20.380519518440686,8.691657397237213 L19.359119759869028,11.222466892282814 L18.589310446383006,10.513876985422742 L18.672370400921807,7.119349550499538 L18.199857146501273,6.222539674441619 L16.70411975986903,6.935865977051185 L16.268755356559765,5.357087896926653 L17.233816195471192,2.719349550499538 L17.088754171243256,1.3766232923540327 L15.69,1.4450832229938768e-15 L15.755374911439818,-1.8459266874747227 L17.233816195471192,-2.719349550499533 L17.471614164214063,-3.9951163977080113 L16.704119759869027,-6.935865977051182 L17.24526299189943,-8.34386001800126 L18.672370400921807,-7.119349550499537 L19.202197621031395,-7.840857412857638 L19.359119759869028,-11.222466892282812 L20.169332990636374,-11.654722419022626 L21.0,-8.8 L21.619480481559314,-8.691657397237213 L22.64088024013097,-11.222466892282814 L23.410689553616994,-10.513876985422742 L23.327629599078193,-7.119349550499539 L23.800142853498727,-6.22253967444162 L25.29588024013097,-6.935865977051186 L25.731244643440235,-5.357087896926655 L24.766183804528808,-2.719349550499539 L24.911245828756744,-1.376623292354034 Z" fill="#fff" stroke="#000" stroke-width="1.44" stroke-linejoin="round" stroke-linecap="round"/>
<path d="M21,-4.7 L37,-4.7 A2.115,4.7 0 0 1 37,4.7 L21,4.7 A2.115,4.7 0 0 1 21,-4.7 Z" fill="#fff" stroke="#000" stroke-width="1.44" stroke-linejoin="round" stroke-linecap="round"/>
<ellipse cx="37" cy="0" rx="2.115" ry="4.7" transform="rotate(0 37 0)" fill="#fff" stroke="#000" stroke-width="1.44"/>
<path d="M37,-4.0 L39.5,-4.0 A1.8,4.0 0 0 1 39.5,4.0 L37,4.0 A1.8,4.0 0 0 1 37,-4.0 Z" fill="#fff" stroke="#000" stroke-width="1.44" stroke-linejoin="round" stroke-linecap="round"/>
<ellipse cx="39.5" cy="0" rx="1.8" ry="4.0" transform="rotate(0 39.5 0)" fill="#fff" stroke="#000" stroke-width="1.44"/>
<path d="M39.5,-4.6 L48.5,-4.6 A2.07,4.6 0 0 1 48.5,4.6 L39.5,4.6 A2.07,4.6 0 0 1 39.5,-4.6 Z" fill="#fff" stroke="#000" stroke-width="1.44" stroke-linejoin="round" stroke-linecap="round"/>
<path d="M40.5,-2.76 L48.0,-2.76 M40.5,-0.9199999999999999 L48.0,-0.9199999999999999 M40.5,0.9199999999999999 L48.0,0.9199999999999999 M40.5,2.76 L48.0,2.76 " fill="none" stroke="#000" stroke-width="0.84" stroke-linejoin="round" stroke-linecap="round"/>
<ellipse cx="48.5" cy="0" rx="2.07" ry="4.6" transform="rotate(0 48.5 0)" fill="#fff" stroke="#000" stroke-width="1.44"/>
<ellipse cx="48.5" cy="0" rx="1.2" ry="2.2" transform="rotate(0 48.5 0)" fill="none" stroke="#000" stroke-width="1.20"/>
</g>
<g transform="translate(221 337.5) rotate(28)">
<path d="M0,-5.5 L13,-5.5 A2.475,5.5 0 0 1 13,5.5 L0,5.5 A2.475,5.5 0 0 1 0,-5.5 Z" fill="#fff" stroke="#000" stroke-width="1.44" stroke-linejoin="round" stroke-linecap="round"/>
<ellipse cx="13" cy="0" rx="2.475" ry="5.5" transform="rotate(0 13 0)" fill="#fff" stroke="#000" stroke-width="1.44"/>
<path d="M13,-11.8 L22,-11.8 L22,11.8 L13,11.8 Z" fill="#fff" stroke="#000" stroke-width="1.44" stroke-linejoin="round" stroke-linecap="round"/>
<path d="M18.310000000000002,0.0 L18.244625088560184,1.8459266874747244 L16.766183804528808,2.7193495504995373 L16.528385835785937,3.9951163977080117 L17.29588024013097,6.935865977051184 L16.75473700810057,8.34386001800126 L15.327629599078193,7.119349550499538 L14.797802378968605,7.840857412857638 L14.640880240130972,11.222466892282812 L13.830667009363626,11.654722419022626 L13.0,8.8 L12.380519518440687,8.691657397237213 L11.35911975986903,11.222466892282814 L10.589310446383006,10.513876985422742 L10.672370400921807,7.119349550499538 L10.199857146501271,6.222539674441619 L8.70411975986903,6.935865977051185 L8.268755356559765,5.357087896926653 L9.233816195471192,2.719349550499538 L9.088754171243254,1.3766232923540327 L7.6899999999999995,1.4450832229938768e-15 L7.755374911439818,-1.8459266874747227 L9.23381619547119,-2.719349550499533 L9.471614164214063,-3.9951163977080113 L8.704119759869027,-6.935865977051182 L9.24526299189943,-8.34386001800126 L10.672370400921807,-7.119349550499537 L11.202197621031393,-7.840857412857638 L11.359119759869028,-11.222466892282812 L12.169332990636374,-11.654722419022626 L13.0,-8.8 L13.619480481559314,-8.691657397237213 L14.64088024013097,-11.222466892282814 L15.410689553616994,-10.513876985422742 L15.327629599078193,-7.119349550499539 L15.800142853498727,-6.22253967444162 L17.29588024013097,-6.935865977051186 L17.731244643440235,-5.357087896926655 L16.766183804528808,-2.719349550499539 L16.911245828756744,-1.376623292354034 Z" fill="#fff" stroke="#000" stroke-width="1.44" stroke-linejoin="round" stroke-linecap="round"/>
<path d="M13,-11.8 L22,-11.8 M13,11.8 L22,11.8" fill="none" stroke="#000" stroke-width="1.44" stroke-linejoin="round" stroke-linecap="round"/>
<rect x="13" y="-11.200000000000001" width="9" height="22.400000000000002" fill="#fff"/>
<path d="M13.830667009363626,11.654722419022626 L22.830667009363626,11.654722419022626 M10.589310446383006,10.513876985422742 L19.589310446383006,10.513876985422742 M8.268755356559765,5.357087896926653 L17.268755356559765,5.357087896926653 M7.755374911439818,-1.8459266874747227 L16.755374911439816,-1.8459266874747227 M9.24526299189943,-8.34386001800126 L18.24526299189943,-8.34386001800126 M12.169332990636374,-11.654722419022626 L21.169332990636374,-11.654722419022626 " fill="none" stroke="#000" stroke-width="1.08" stroke-linejoin="round" stroke-linecap="round"/>
<path d="M27.310000000000002,0.0 L27.244625088560184,1.8459266874747244 L25.766183804528808,2.7193495504995373 L25.528385835785937,3.9951163977080117 L26.29588024013097,6.935865977051184 L25.75473700810057,8.34386001800126 L24.327629599078193,7.119349550499538 L23.797802378968605,7.840857412857638 L23.640880240130972,11.222466892282812 L22.830667009363626,11.654722419022626 L22.0,8.8 L21.380519518440686,8.691657397237213 L20.359119759869028,11.222466892282814 L19.589310446383006,10.513876985422742 L19.672370400921807,7.119349550499538 L19.199857146501273,6.222539674441619 L17.70411975986903,6.935865977051185 L17.268755356559765,5.357087896926653 L18.233816195471192,2.719349550499538 L18.088754171243256,1.3766232923540327 L16.689999999999998,1.4450832229938768e-15 L16.755374911439816,-1.8459266874747227 L18.233816195471192,-2.719349550499533 L18.471614164214063,-3.9951163977080113 L17.704119759869027,-6.935865977051182 L18.24526299189943,-8.34386001800126 L19.672370400921807,-7.119349550499537 L20.202197621031395,-7.840857412857638 L20.359119759869028,-11.222466892282812 L21.169332990636374,-11.654722419022626 L22.0,-8.8 L22.619480481559314,-8.691657397237213 L23.64088024013097,-11.222466892282814 L24.410689553616994,-10.513876985422742 L24.327629599078193,-7.119349550499539 L24.800142853498727,-6.22253967444162 L26.29588024013097,-6.935865977051186 L26.731244643440235,-5.357087896926655 L25.766183804528808,-2.719349550499539 L25.911245828756744,-1.376623292354034 Z" fill="#fff" stroke="#000" stroke-width="1.44" stroke-linejoin="round" stroke-linecap="round"/>
<path d="M22,-5.6 L35,-5.6 A2.52,5.6 0 0 1 35,5.6 L22,5.6 A2.52,5.6 0 0 1 22,-5.6 Z" fill="#fff" stroke="#000" stroke-width="1.44" stroke-linejoin="round" stroke-linecap="round"/>
<ellipse cx="35" cy="0" rx="2.52" ry="5.6" transform="rotate(0 35 0)" fill="#fff" stroke="#000" stroke-width="1.44"/>
<ellipse cx="35" cy="0" rx="1.0" ry="1.6" transform="rotate(0 35 0)" fill="none" stroke="#000" stroke-width="1.20"/>
</g>
<g transform="translate(334 555) rotate(29)">
<path d="M0,-4.6 L4,-4.6 A2.07,4.6 0 0 1 4,4.6 L0,4.6 A2.07,4.6 0 0 1 0,-4.6 Z" fill="#fff" stroke="#000" stroke-width="1.44" stroke-linejoin="round" stroke-linecap="round"/>
<path d="M1,-2.76 L3.5,-2.76 M1,-0.9199999999999999 L3.5,-0.9199999999999999 M1,0.9199999999999999 L3.5,0.9199999999999999 M1,2.76 L3.5,2.76 " fill="none" stroke="#000" stroke-width="0.84" stroke-linejoin="round" stroke-linecap="round"/>
<ellipse cx="4" cy="0" rx="2.07" ry="4.6" transform="rotate(0 4 0)" fill="#fff" stroke="#000" stroke-width="1.44"/>
<path d="M4,-5.8 L19,-5.8 A2.61,5.8 0 0 1 19,5.8 L4,5.8 A2.61,5.8 0 0 1 4,-5.8 Z" fill="#fff" stroke="#000" stroke-width="1.44" stroke-linejoin="round" stroke-linecap="round"/>
<ellipse cx="19" cy="0" rx="2.61" ry="5.8" transform="rotate(0 19 0)" fill="#fff" stroke="#000" stroke-width="1.44"/>
<path d="M19,-12.2 L28.5,-12.2 L28.5,12.2 L19,12.2 Z" fill="#fff" stroke="#000" stroke-width="1.44" stroke-linejoin="round" stroke-linecap="round"/>
<path d="M24.490000000000002,0.0 L24.422408989867307,1.9085004734908164 L22.851778890995373,2.7811529493745266 L22.60857642296289,4.085914497655921 L23.441503299118462,7.170980077968172 L22.882016228714146,8.626702730475879 L21.380530271784515,7.281152949374527 L20.838661523945163,8.01905871769531 L20.69650329911846,11.602889498800872 L19.85882521307087,12.04979775526068 L19.0,9.0 L18.366440416587068,8.88919506535624 L17.30349670088154,11.602889498800874 L16.507592156429887,10.870279595098088 L16.619469728215485,7.281152949374527 L16.136217536194483,6.3639610306789285 L14.55849670088154,7.170980077968173 L14.10837418220586,5.538684096822472 L15.148221109004629,2.7811529493745275 L14.999862220589693,1.4079101853620788 L13.51,1.4940690949597709e-15 L13.577591010132693,-1.9085004734908149 L15.148221109004627,-2.781152949374522 L15.39142357703711,-4.08591449765592 L14.558496700881538,-7.170980077968171 L15.117983771285854,-8.626702730475879 L16.619469728215485,-7.281152949374526 L17.161338476054834,-8.01905871769531 L17.30349670088154,-11.602889498800872 L18.14117478692913,-12.049797755260679 L19.0,-9.0 L19.633559583412936,-8.88919506535624 L20.69650329911846,-11.602889498800874 L21.49240784357011,-10.87027959509809 L21.380530271784515,-7.281152949374528 L21.863782463805517,-6.363961030678929 L23.44150329911846,-7.170980077968174 L23.89162581779414,-5.538684096822473 L22.851778890995373,-2.7811529493745284 L23.00013777941031,-1.4079101853620801 Z" fill="#fff" stroke="#000" stroke-width="1.44" stroke-linejoin="round" stroke-linecap="round"/>
<path d="M19,-12.2 L28.5,-12.2 M19,12.2 L28.5,12.2" fill="none" stroke="#000" stroke-width="1.44" stroke-linejoin="round" stroke-linecap="round"/>
<rect x="19" y="-11.6" width="9.5" height="23.2" fill="#fff"/>
<path d="M19.85882521307087,12.04979775526068 L29.35882521307087,12.04979775526068 M16.507592156429887,10.870279595098088 L26.007592156429887,10.870279595098088 M14.10837418220586,5.538684096822472 L23.60837418220586,5.538684096822472 M13.577591010132693,-1.9085004734908149 L23.077591010132693,-1.9085004734908149 M15.117983771285854,-8.626702730475879 L24.617983771285854,-8.626702730475879 M18.14117478692913,-12.049797755260679 L27.64117478692913,-12.049797755260679 " fill="none" stroke="#000" stroke-width="1.08" stroke-linejoin="round" stroke-linecap="round"/>
<path d="M33.99,0.0 L33.92240898986731,1.9085004734908164 L32.35177889099537,2.7811529493745266 L32.10857642296289,4.085914497655921 L32.94150329911846,7.170980077968172 L32.38201622871415,8.626702730475879 L30.880530271784515,7.281152949374527 L30.338661523945163,8.01905871769531 L30.19650329911846,11.602889498800872 L29.35882521307087,12.04979775526068 L28.5,9.0 L27.866440416587068,8.88919506535624 L26.80349670088154,11.602889498800874 L26.007592156429887,10.870279595098088 L26.119469728215485,7.281152949374527 L25.636217536194483,6.3639610306789285 L24.05849670088154,7.170980077968173 L23.60837418220586,5.538684096822472 L24.648221109004627,2.7811529493745275 L24.49986222058969,1.4079101853620788 L23.009999999999998,1.4940690949597709e-15 L23.077591010132693,-1.9085004734908149 L24.648221109004627,-2.781152949374522 L24.89142357703711,-4.08591449765592 L24.058496700881538,-7.170980077968171 L24.617983771285854,-8.626702730475879 L26.119469728215485,-7.281152949374526 L26.661338476054834,-8.01905871769531 L26.80349670088154,-11.602889498800872 L27.64117478692913,-12.049797755260679 L28.5,-9.0 L29.133559583412936,-8.88919506535624 L30.19650329911846,-11.602889498800874 L30.99240784357011,-10.87027959509809 L30.880530271784515,-7.281152949374528 L31.363782463805517,-6.363961030678929 L32.94150329911846,-7.170980077968174 L33.391625817794136,-5.538684096822473 L32.35177889099537,-2.7811529493745284 L32.50013777941031,-1.4079101853620801 Z" fill="#fff" stroke="#000" stroke-width="1.44" stroke-linejoin="round" stroke-linecap="round"/>
<path d="M28.5,-5.8 L45,-5.8 A2.61,5.8 0 0 1 45,5.8 L28.5,5.8 A2.61,5.8 0 0 1 28.5,-5.8 Z" fill="#fff" stroke="#000" stroke-width="1.44" stroke-linejoin="round" stroke-linecap="round"/>
<ellipse cx="45" cy="0" rx="2.61" ry="5.8" transform="rotate(0 45 0)" fill="#fff" stroke="#000" stroke-width="1.44"/>
<path d="M45,-5.2 L48,-5.2 A2.3400000000000003,5.2 0 0 1 48,5.2 L45,5.2 A2.3400000000000003,5.2 0 0 1 45,-5.2 Z" fill="#fff" stroke="#000" stroke-width="1.44" stroke-linejoin="round" stroke-linecap="round"/>
<ellipse cx="48" cy="0" rx="2.3400000000000003" ry="5.2" transform="rotate(0 48 0)" fill="#fff" stroke="#000" stroke-width="1.44"/>
<path d="M48,-5.6 L66,-5.6 A2.52,5.6 0 0 1 66,5.6 L48,5.6 A2.52,5.6 0 0 1 48,-5.6 Z" fill="#fff" stroke="#000" stroke-width="1.44" stroke-linejoin="round" stroke-linecap="round"/>
<path d="M49,-4.0 L65.5,-4.0 M49,-2.4 L65.5,-2.4 M49,-0.8000000000000007 L65.5,-0.8000000000000007 M49,0.7999999999999998 L65.5,0.7999999999999998 M49,2.4000000000000004 L65.5,2.4000000000000004 M49,3.9999999999999982 L65.5,3.9999999999999982 " fill="none" stroke="#000" stroke-width="0.84" stroke-linejoin="round" stroke-linecap="round"/>
<ellipse cx="66" cy="0" rx="2.52" ry="5.6" transform="rotate(0 66 0)" fill="#fff" stroke="#000" stroke-width="1.44"/>
<ellipse cx="66" cy="0" rx="1.0" ry="1.6" transform="rotate(0 66 0)" fill="none" stroke="#000" stroke-width="1.20"/>
</g>
<g transform="translate(338.5 590.5) rotate(28)">
<path d="M0,-5.5 L12,-5.5 A2.475,5.5 0 0 1 12,5.5 L0,5.5 A2.475,5.5 0 0 1 0,-5.5 Z" fill="#fff" stroke="#000" stroke-width="1.44" stroke-linejoin="round" stroke-linecap="round"/>
<ellipse cx="12" cy="0" rx="2.475" ry="5.5" transform="rotate(0 12 0)" fill="#fff" stroke="#000" stroke-width="1.44"/>
<path d="M12,-11.8 L22,-11.8 L22,11.8 L12,11.8 Z" fill="#fff" stroke="#000" stroke-width="1.44" stroke-linejoin="round" stroke-linecap="round"/>
<path d="M17.310000000000002,0.0 L17.244625088560184,1.8459266874747244 L15.766183804528808,2.7193495504995373 L15.528385835785937,3.9951163977080117 L16.29588024013097,6.935865977051184 L15.754737008100568,8.34386001800126 L14.327629599078193,7.119349550499538 L13.797802378968605,7.840857412857638 L13.640880240130972,11.222466892282812 L12.830667009363626,11.654722419022626 L12.0,8.8 L11.380519518440687,8.691657397237213 L10.35911975986903,11.222466892282814 L9.589310446383006,10.513876985422742 L9.672370400921807,7.119349550499538 L9.199857146501271,6.222539674441619 L7.704119759869029,6.935865977051185 L7.268755356559766,5.357087896926653 L8.233816195471192,2.719349550499538 L8.088754171243254,1.3766232923540327 L6.6899999999999995,1.4450832229938768e-15 L6.755374911439818,-1.8459266874747227 L8.23381619547119,-2.719349550499533 L8.471614164214063,-3.9951163977080113 L7.704119759869028,-6.935865977051182 L8.24526299189943,-8.34386001800126 L9.672370400921807,-7.119349550499537 L10.202197621031393,-7.840857412857638 L10.359119759869028,-11.222466892282812 L11.169332990636374,-11.654722419022626 L12.0,-8.8 L12.619480481559314,-8.691657397237213 L13.64088024013097,-11.222466892282814 L14.410689553616994,-10.513876985422742 L14.327629599078193,-7.119349550499539 L14.800142853498727,-6.22253967444162 L16.29588024013097,-6.935865977051186 L16.731244643440235,-5.357087896926655 L15.766183804528808,-2.719349550499539 L15.911245828756746,-1.376623292354034 Z" fill="#fff" stroke="#000" stroke-width="1.44" stroke-linejoin="round" stroke-linecap="round"/>
<path d="M12,-11.8 L22,-11.8 M12,11.8 L22,11.8" fill="none" stroke="#000" stroke-width="1.44" stroke-linejoin="round" stroke-linecap="round"/>
<rect x="12" y="-11.200000000000001" width="10" height="22.400000000000002" fill="#fff"/>
<path d="M12.830667009363626,11.654722419022626 L22.830667009363626,11.654722419022626 M9.589310446383006,10.513876985422742 L19.589310446383006,10.513876985422742 M7.268755356559766,5.357087896926653 L17.268755356559765,5.357087896926653 M6.755374911439818,-1.8459266874747227 L16.755374911439816,-1.8459266874747227 M8.24526299189943,-8.34386001800126 L18.24526299189943,-8.34386001800126 M11.169332990636374,-11.654722419022626 L21.169332990636374,-11.654722419022626 " fill="none" stroke="#000" stroke-width="1.08" stroke-linejoin="round" stroke-linecap="round"/>
<path d="M27.310000000000002,0.0 L27.244625088560184,1.8459266874747244 L25.766183804528808,2.7193495504995373 L25.528385835785937,3.9951163977080117 L26.29588024013097,6.935865977051184 L25.75473700810057,8.34386001800126 L24.327629599078193,7.119349550499538 L23.797802378968605,7.840857412857638 L23.640880240130972,11.222466892282812 L22.830667009363626,11.654722419022626 L22.0,8.8 L21.380519518440686,8.691657397237213 L20.359119759869028,11.222466892282814 L19.589310446383006,10.513876985422742 L19.672370400921807,7.119349550499538 L19.199857146501273,6.222539674441619 L17.70411975986903,6.935865977051185 L17.268755356559765,5.357087896926653 L18.233816195471192,2.719349550499538 L18.088754171243256,1.3766232923540327 L16.689999999999998,1.4450832229938768e-15 L16.755374911439816,-1.8459266874747227 L18.233816195471192,-2.719349550499533 L18.471614164214063,-3.9951163977080113 L17.704119759869027,-6.935865977051182 L18.24526299189943,-8.34386001800126 L19.672370400921807,-7.119349550499537 L20.202197621031395,-7.840857412857638 L20.359119759869028,-11.222466892282812 L21.169332990636374,-11.654722419022626 L22.0,-8.8 L22.619480481559314,-8.691657397237213 L23.64088024013097,-11.222466892282814 L24.410689553616994,-10.513876985422742 L24.327629599078193,-7.119349550499539 L24.800142853498727,-6.22253967444162 L26.29588024013097,-6.935865977051186 L26.731244643440235,-5.357087896926655 L25.766183804528808,-2.719349550499539 L25.911245828756744,-1.376623292354034 Z" fill="#fff" stroke="#000" stroke-width="1.44" stroke-linejoin="round" stroke-linecap="round"/>
<path d="M22,-5.8 L35.6,-5.8 A2.61,5.8 0 0 1 35.6,5.8 L22,5.8 A2.61,5.8 0 0 1 22,-5.8 Z" fill="#fff" stroke="#000" stroke-width="1.44" stroke-linejoin="round" stroke-linecap="round"/>
<ellipse cx="35.6" cy="0" rx="2.61" ry="5.8" transform="rotate(0 35.6 0)" fill="#fff" stroke="#000" stroke-width="1.44"/>
<ellipse cx="35.6" cy="0" rx="1.0" ry="1.6" transform="rotate(0 35.6 0)" fill="none" stroke="#000" stroke-width="1.20"/>
</g>
<path d="M371.25,380 L383.75,367.5 L392,365.5 L400,365 L415,362.5 L420,366 L421,424 L418,427 L380,445.5 L376.25,443 L367.5,436.5 L365,430 L365.6,392 L367,389.5 L371.9,388.75 Z" fill="#fff" stroke="#000" stroke-width="1.56" stroke-linejoin="round" stroke-linecap="round"/>
<path d="M366,392 L376,394.5 M366,431 L376,433.5" fill="none" stroke="#000" stroke-width="1.20" stroke-linejoin="round" stroke-linecap="round"/>
<path d="M371.25,380 L375,387.5" fill="none" stroke="#000" stroke-width="1.20" stroke-linejoin="round" stroke-linecap="round"/>
<path d="M383.75,367.5 L388,371 L392,371.5 L394.5,369 L399,369.2 L401,366.5" fill="none" stroke="#000" stroke-width="1.20" stroke-linejoin="round" stroke-linecap="round"/>
<path d="M377.5,386.8 L415.5,363.6 Q419.3,362.8 419.6,366.5 L420,422.5 Q420,425.5 417.5,426.5 L380.5,445.2 Q377.2,446.2 377,443 L375.2,390.5 Q375.2,388 377.5,386.8 Z" fill="#fff" stroke="#000" stroke-width="1.68" stroke-linejoin="round" stroke-linecap="round"/>
<path d="M380,389.5 L414.5,368 L416.2,421.5 L381,439.5 Z" fill="none" stroke="#000" stroke-width="1.08" stroke-linejoin="round" stroke-linecap="round"/>
<path d="M400,378.5 L404,375.5 L408.5,376.5 L413,375.8 L416.5,376.8 L417.2,389 L411,390.5 L406.5,389.2 L401.5,387.5 L399.8,383 Z" fill="none" stroke="#000" stroke-width="1.56" stroke-linejoin="round" stroke-linecap="round"/>
<path d="M415,378 L415.5,388" fill="none" stroke="#000" stroke-width="2.40" stroke-linejoin="round" stroke-linecap="round"/>
<path d="M382.5,392.5 L388,386.5 L393.5,385 L395,389 L393,394 L390,401 L384,405.5 L382.5,404 Z" fill="none" stroke="#000" stroke-width="1.56" stroke-linejoin="round" stroke-linecap="round"/>
<path d="M402,424.5 L404,418 L409.5,412.5 L413,407 L416.5,405.5 L417,413 L413.5,419 L410.5,423.5 L405,426.5 Z" fill="none" stroke="#000" stroke-width="1.56" stroke-linejoin="round" stroke-linecap="round"/>
<path d="M382.5,423 L386,420.5 L392,422 L396.5,427 L397.5,433 L392,436.5 L385.5,437.5 L382.5,434 Z" fill="none" stroke="#000" stroke-width="1.56" stroke-linejoin="round" stroke-linecap="round"/>
<ellipse cx="398.1" cy="398.1" rx="5.8" ry="7.6" transform="rotate(12 398.1 398.1)" fill="none" stroke="#000" stroke-width="1.68"/>
<ellipse cx="398.4" cy="398.6" rx="4.2" ry="6.0" transform="rotate(12 398.4 398.6)" fill="none" stroke="#000" stroke-width="1.20"/>
<ellipse cx="408.75" cy="401.25" rx="3.1" ry="4.4" transform="rotate(12 408.75 401.25)" fill="none" stroke="#000" stroke-width="1.56"/>
<ellipse cx="388.75" cy="411.25" rx="3.0" ry="4.2" transform="rotate(12 388.75 411.25)" fill="none" stroke="#000" stroke-width="1.56"/>
<ellipse cx="381.25" cy="390.6" rx="2.0" ry="2.2" transform="rotate(0 381.25 390.6)" fill="none" stroke="#000" stroke-width="1.32"/>
<ellipse cx="415.6" cy="370" rx="2.0" ry="2.2" transform="rotate(0 415.6 370)" fill="none" stroke="#000" stroke-width="1.32"/>
<ellipse cx="416.25" cy="421.25" rx="2.0" ry="2.2" transform="rotate(0 416.25 421.25)" fill="none" stroke="#000" stroke-width="1.32"/>
<ellipse cx="382.5" cy="440" rx="2.0" ry="2.2" transform="rotate(0 382.5 440)" fill="none" stroke="#000" stroke-width="1.32"/>
<ellipse cx="398.75" cy="381.25" rx="1.2" ry="1.32" transform="rotate(0 398.75 381.25)" fill="none" stroke="#000" stroke-width="1.32"/>
<ellipse cx="398.75" cy="431.25" rx="1.2" ry="1.32" transform="rotate(0 398.75 431.25)" fill="none" stroke="#000" stroke-width="1.32"/>
<g transform="translate(366 359.5) rotate(33)">
<path d="M0,-2.1 L10,-2.1 M0,2.1 L10,2.1" fill="none" stroke="#000" stroke-width="1.56" stroke-linejoin="round" stroke-linecap="round"/>
<ellipse cx="0" cy="0" rx="0.9" ry="2.1" transform="rotate(0 0 0)" fill="#fff" stroke="#000" stroke-width="1.56"/>
<ellipse cx="10" cy="0" rx="1.0" ry="2.1" transform="rotate(0 10 0)" fill="#fff" stroke="#000" stroke-width="1.68"/>
</g>
<g transform="translate(407.5 437) rotate(33)">
<path d="M0,-2.1 L10,-2.1 M0,2.1 L10,2.1" fill="none" stroke="#000" stroke-width="1.56" stroke-linejoin="round" stroke-linecap="round"/>
<ellipse cx="0" cy="0" rx="0.9" ry="2.1" transform="rotate(0 0 0)" fill="#fff" stroke="#000" stroke-width="1.56"/>
<ellipse cx="10" cy="0" rx="1.0" ry="2.1" transform="rotate(0 10 0)" fill="#fff" stroke="#000" stroke-width="1.68"/>
</g>
<g transform="translate(427.3 415.6) rotate(25)">
<path d="M0,-7.6 L10.5,-7.6 A3.42,7.6 0 0 1 10.5,7.6 L0,7.6 A3.42,7.6 0 0 1 0,-7.6 Z" fill="#fff" stroke="#000" stroke-width="1.56" stroke-linejoin="round" stroke-linecap="round"/>
<ellipse cx="10.5" cy="0" rx="3.42" ry="7.6" transform="rotate(0 10.5 0)" fill="#fff" stroke="#000" stroke-width="1.56"/>
<ellipse cx="10.5" cy="0" rx="3.42" ry="7.6" transform="rotate(0 10.5 0)" fill="#222" stroke="#000" stroke-width="1.92"/>
<ellipse cx="10.5" cy="0" rx="2.565" ry="5.928" transform="rotate(0 10.5 0)" fill="#555" stroke="#000" stroke-width="0.72"/>
<ellipse cx="10.5" cy="0" rx="1.368" ry="3.42" transform="rotate(0 10.5 0)" fill="#fff" stroke="#000" stroke-width="1.20"/>
</g>
<path d="M447.81,419.93 C449.42,418.57 451.82,417.24 453.50,417.05 C455.18,416.86 456.34,418.57 457.87,418.80 C459.40,419.03 461.15,418.19 462.68,418.45 C464.21,418.71 466.14,419.39 467.06,420.37 C467.98,421.35 468.26,422.63 468.19,424.31 C468.12,425.99 467.50,428.68 466.62,430.43 C465.75,432.18 463.81,433.35 462.94,434.81 C462.06,436.27 462.36,437.50 461.37,439.18 C460.38,440.86 458.45,442.75 456.99,444.87 C455.53,446.99 454.15,450.53 452.62,451.87 C451.09,453.21 449.41,453.07 447.81,452.92 C446.21,452.77 444.68,451.63 443.00,450.99 C441.32,450.35 439.28,450.02 437.75,449.07 C436.22,448.12 434.47,446.74 433.81,445.31 C433.15,443.88 433.12,442.02 433.81,440.49 C434.50,438.96 436.90,437.65 437.92,436.12 C438.94,434.59 438.94,433.13 439.93,431.31 C440.92,429.49 442.56,427.08 443.87,425.18 C445.18,423.28 446.20,421.29 447.81,419.93 Z" fill="none" stroke="#000" stroke-width="2.40" stroke-linejoin="round" stroke-linecap="round"/>
<g transform="translate(334 432.75) rotate(29)">
<path d="M3,-2.6 L18,-2.6 M3,2.6 L18,2.6" fill="none" stroke="#000" stroke-width="1.56" stroke-linejoin="round" stroke-linecap="round"/>
<ellipse cx="18" cy="0" rx="1.0" ry="2.6" transform="rotate(0 18 0)" fill="#fff" stroke="#000" stroke-width="1.44"/>
<path d="M8.0,-2.6 L8.7,2.6 M9.4,-2.6 L10.1,2.6 M10.8,-2.6 L11.5,2.6 M12.2,-2.6 L12.899999999999999,2.6 M13.6,-2.6 L14.299999999999999,2.6 M15.0,-2.6 L15.7,2.6 M16.4,-2.6 L17.099999999999998,2.6 " fill="none" stroke="#000" stroke-width="1.08" stroke-linejoin="round" stroke-linecap="round"/>
<path d="M-1,-4.6 L3.5,-4.6 L3.5,4.6 L-1,4.6" fill="#fff" stroke="#000" stroke-width="1.92" stroke-linejoin="round" stroke-linecap="round"/>
<ellipse cx="-1" cy="0" rx="2.6" ry="4.6" transform="rotate(0 -1 0)" fill="#444" stroke="#000" stroke-width="2.16"/>
<path d="M-1,-1.8 L3.5,-1.8 M-1,1.8 L3.5,1.8" fill="none" stroke="#000" stroke-width="1.20" stroke-linejoin="round" stroke-linecap="round"/>
</g>
<ellipse cx="352" cy="442.9" rx="3.4" ry="4.5" transform="rotate(20 352 442.9)" fill="#fff" stroke="#000" stroke-width="1.80"/>
<ellipse cx="352" cy="442.9" rx="1.4" ry="2.2" transform="rotate(20 352 442.9)" fill="none" stroke="#000" stroke-width="1.20"/>
<path d="M466.2,439.1 L507.5,415.5 L512.75,418.1 L515.4,421.4 L516,430.6 L533.75,441.75 L535,447 L535.7,478.5 L531.1,490.3 L520.6,502.1 L510.1,506 L497,504.75 L494.4,500.8 L489.8,502.1 L466.2,490.3 L466.2,452.2 L465.5,446 Z" fill="#fff" stroke="#000" stroke-width="1.68" stroke-linejoin="round" stroke-linecap="round"/>
<path d="M473.00,452.00 C473.08,451.17 472.75,448.83 473.50,447.00 C474.25,445.17 475.25,443.13 477.50,441.00 C479.75,438.87 483.08,434.23 487.00,434.20 C490.92,434.17 496.42,441.20 501.00,440.80 C505.58,440.40 512.25,433.30 514.50,431.80" fill="none" stroke="#000" stroke-width="1.32" stroke-linejoin="round" stroke-linecap="round"/>
<path d="M479.50,449.50 C480.00,447.92 481.17,442.08 482.50,440.00 C483.83,437.92 484.25,436.50 487.50,437.00 C490.75,437.50 497.33,443.58 502.00,443.00 C506.67,442.42 513.25,435.08 515.50,433.50" fill="none" stroke="#000" stroke-width="1.20" stroke-linejoin="round" stroke-linecap="round"/>
<path d="M467.00,452.00 C468.00,452.08 468.58,450.70 473.00,452.50 C477.42,454.30 490.08,461.08 493.50,462.80" fill="none" stroke="#000" stroke-width="1.32" stroke-linejoin="round" stroke-linecap="round"/>
<path d="M505.0,424.0 L512.0,419.0 M505.0,424.0 L515.0,429.5" fill="none" stroke="#000" stroke-width="1.20" stroke-linejoin="round" stroke-linecap="round"/>
<ellipse cx="511.5" cy="424" rx="1.4" ry="1.5" transform="rotate(0 511.5 424)" fill="none" stroke="#000" stroke-width="1.20"/>
<ellipse cx="477" cy="444.5" rx="1.6" ry="1.9" transform="rotate(0 477 444.5)" fill="none" stroke="#000" stroke-width="1.20"/>
<path d="M516,430.6 Q507,436 502,449 Q497.5,462 497,478 Q497,494 501.5,505.5" fill="none" stroke="#000" stroke-width="1.44" stroke-linejoin="round" stroke-linecap="round"/>
<path d="M489.1,464 Q494,470 494.5,482 L494.4,500.8" fill="none" stroke="#000" stroke-width="1.20" stroke-linejoin="round" stroke-linecap="round"/>
<path d="M466.2,452.2 L489.1,464 L489.8,502.1" fill="none" stroke="#000" stroke-width="1.44" stroke-linejoin="round" stroke-linecap="round"/>
<ellipse cx="471.4" cy="458.8" rx="1.5" ry="1.7" transform="rotate(0 471.4 458.8)" fill="#000" stroke="#000" stroke-width="0.72"/>
<ellipse cx="485.8" cy="466" rx="1.5" ry="1.7" transform="rotate(0 485.8 466)" fill="#000" stroke="#000" stroke-width="0.72"/>
<ellipse cx="472" cy="488.3" rx="1.5" ry="1.7" transform="rotate(0 472 488.3)" fill="#000" stroke="#000" stroke-width="0.72"/>
<ellipse cx="485.8" cy="496.9" rx="1.5" ry="1.7" transform="rotate(0 485.8 496.9)" fill="#000" stroke="#000" stroke-width="0.72"/>
<ellipse cx="477.3" cy="477.2" rx="7.0" ry="9.6" transform="rotate(-12 477.3 477.2)" fill="none" stroke="#000" stroke-width="1.56"/>
<path d="M481,469.5 Q485,477 481.5,485.5" fill="none" stroke="#000" stroke-width="1.20" stroke-linejoin="round" stroke-linecap="round"/>
<ellipse cx="516.7" cy="471.5" rx="14" ry="20.5" transform="rotate(12 516.7 471.5)" fill="none" stroke="#000" stroke-width="2.40"/>
<ellipse cx="516.7" cy="471.5" rx="12.2" ry="18.5" transform="rotate(12 516.7 471.5)" fill="none" stroke="#000" stroke-width="0.96"/>
<ellipse cx="516.7" cy="464.7" rx="3.9" ry="5.25" transform="rotate(15 516.7 464.7)" fill="none" stroke="#000" stroke-width="1.92"/>
<ellipse cx="516.7" cy="479.15" rx="3.9" ry="5.25" transform="rotate(15 516.7 479.15)" fill="none" stroke="#000" stroke-width="1.92"/>
<ellipse cx="523.25" cy="466" rx="2.3" ry="3.9" transform="rotate(10 523.25 466)" fill="none" stroke="#000" stroke-width="1.56"/>
<ellipse cx="508.8" cy="476.5" rx="2.3" ry="5.0" transform="rotate(5 508.8 476.5)" fill="none" stroke="#000" stroke-width="1.56"/>
<ellipse cx="515.4" cy="447" rx="1.5" ry="1.6" transform="rotate(15 515.4 447)" fill="none" stroke="#000" stroke-width="1.32"/>
<ellipse cx="527.8" cy="447" rx="2.3" ry="3.2" transform="rotate(15 527.8 447)" fill="none" stroke="#000" stroke-width="1.32"/>
<ellipse cx="505.5" cy="459.5" rx="2.0" ry="3.0" transform="rotate(15 505.5 459.5)" fill="none" stroke="#000" stroke-width="1.32"/>
<ellipse cx="527.8" cy="483.75" rx="2.3" ry="3.2" transform="rotate(15 527.8 483.75)" fill="none" stroke="#000" stroke-width="1.32"/>
<ellipse cx="504.9" cy="496.9" rx="2.3" ry="3.2" transform="rotate(15 504.9 496.9)" fill="none" stroke="#000" stroke-width="1.32"/>
<ellipse cx="515.4" cy="496.2" rx="1.5" ry="1.6" transform="rotate(15 515.4 496.2)" fill="none" stroke="#000" stroke-width="1.32"/>
<g transform="translate(521.5 498.5) rotate(35)">
<path d="M0,-2.0 L10,-2.0 M0,2.0 L10,2.0" fill="none" stroke="#000" stroke-width="1.56" stroke-linejoin="round" stroke-linecap="round"/>
<ellipse cx="0" cy="0" rx="0.9" ry="2.0" transform="rotate(0 0 0)" fill="#fff" stroke="#000" stroke-width="1.56"/>
<ellipse cx="10" cy="0" rx="1.0" ry="2.0" transform="rotate(0 10 0)" fill="#fff" stroke="#000" stroke-width="1.68"/>
</g>
<path d="M518,497 L521,498.5" fill="none" stroke="#000" stroke-width="1.20" stroke-linejoin="round" stroke-linecap="round"/>
<g transform="translate(407.5 481.5) rotate(27.8)">
<path d="M4,-2.7 L41,-2.7 M4,2.7 L41,2.7" fill="none" stroke="#000" stroke-width="1.56" stroke-linejoin="round" stroke-linecap="round"/>
<ellipse cx="41" cy="0" rx="1.1" ry="2.7" transform="rotate(0 41 0)" fill="#fff" stroke="#000" stroke-width="1.56"/>
<path d="M27.0,-2.7 L27.8,2.7 M28.5,-2.7 L29.3,2.7 M30.0,-2.7 L30.8,2.7 M31.5,-2.7 L32.3,2.7 M33.0,-2.7 L33.8,2.7 M34.5,-2.7 L35.3,2.7 M36.0,-2.7 L36.8,2.7 M37.5,-2.7 L38.3,2.7 M39.0,-2.7 L39.8,2.7 " fill="none" stroke="#000" stroke-width="1.08" stroke-linejoin="round" stroke-linecap="round"/>
<path d="M-1,-5 L4,-5 L4,5 L-1,5" fill="#fff" stroke="#000" stroke-width="1.56" stroke-linejoin="round" stroke-linecap="round"/>
<ellipse cx="-1" cy="0" rx="2.6" ry="5" transform="rotate(0 -1 0)" fill="#fff" stroke="#000" stroke-width="1.68"/>
<path d="M-1,-2 L4,-2 M-1,2 L4,2" fill="none" stroke="#000" stroke-width="1.20" stroke-linejoin="round" stroke-linecap="round"/>
<path d="M-2.5,-3 Q-3,0 -2.5,3" fill="none" stroke="#000" stroke-width="1.92" stroke-linejoin="round" stroke-linecap="round"/>
</g>
<ellipse cx="448.4" cy="503.75" rx="3.3" ry="4.4" transform="rotate(20 448.4 503.75)" fill="#fff" stroke="#000" stroke-width="1.92"/>
<path d="M449.5,501.5 Q446.5,502 447.5,505.5 Q449,507 450.5,505.5" fill="none" stroke="#000" stroke-width="1.32" stroke-linejoin="round" stroke-linecap="round"/>
<path d="M482.25,652.19 C482.68,649.34 484.73,642.86 485.97,640.50 C487.21,638.14 491.21,633.73 492.88,632.00 C494.55,630.27 498.71,626.68 500.32,625.63 C501.93,624.58 505.20,623.22 506.69,622.97 C508.18,622.72 511.71,623.07 513.07,623.50 C514.43,623.93 517.26,626.01 518.38,626.69 C519.50,627.37 520.65,628.92 522.63,629.35 C524.61,629.78 533.16,629.91 535.39,630.41 C537.62,630.91 540.89,632.55 541.76,633.60 C542.63,634.65 543.07,638.36 542.82,639.44 C542.57,640.52 539.76,642.10 539.64,642.84 C539.52,643.58 541.51,644.85 541.76,645.82 C542.01,646.79 542.13,649.77 541.76,651.13 C541.39,652.49 539.56,655.53 538.57,657.51 C537.58,659.49 534.50,666.15 533.26,668.13 C532.02,670.11 529.44,673.27 527.95,674.51 C526.46,675.75 522.87,677.95 520.51,678.76 C518.15,679.57 509.35,680.37 507.76,681.42 C506.17,682.47 507.41,686.59 506.91,687.79 C506.41,688.99 504.64,691.27 503.50,691.73 C502.36,692.19 498.62,692.19 497.13,691.73 C495.64,691.27 492.24,689.49 490.75,687.79 C489.26,686.09 485.37,679.83 484.38,677.17 C483.39,674.51 482.50,667.86 482.25,664.95 C482.00,662.04 481.82,655.04 482.25,652.19 Z" fill="#fff" stroke="#000" stroke-width="1.80" stroke-linejoin="round" stroke-linecap="round"/>
<path d="M499.25,626.69 C500.14,627.40 502.62,630.23 504.57,630.94 C506.52,631.65 508.64,631.61 510.94,630.94 C513.24,630.27 517.14,627.57 518.38,626.90" fill="none" stroke="#000" stroke-width="1.20" stroke-linejoin="round" stroke-linecap="round"/>
<ellipse cx="505.84" cy="627.96" rx="5.2" ry="2.4" transform="rotate(-10 505.84 627.96)" fill="none" stroke="#000" stroke-width="1.20"/>
<path d="M484.38,660.70 C485.44,660.97 488.45,663.88 490.75,662.29 C493.05,660.69 495.68,654.90 498.19,651.13 C500.70,647.36 504.56,641.56 505.84,639.65" fill="none" stroke="#000" stroke-width="1.32" stroke-linejoin="round" stroke-linecap="round"/>
<path d="M491.82,664.95 C493.06,663.18 496.50,658.08 499.25,654.32 C502.00,650.57 506.78,644.40 508.29,642.42" fill="none" stroke="#000" stroke-width="1.32" stroke-linejoin="round" stroke-linecap="round"/>
<path d="M499.25,667.60 C498.72,667.69 497.13,667.69 496.07,668.13 C495.01,668.57 493.24,669.46 492.88,670.26 C492.52,671.06 493.76,672.48 493.94,672.92" fill="none" stroke="#000" stroke-width="1.68" stroke-linejoin="round" stroke-linecap="round"/>
<path d="M484.38,664.95 C485.26,664.95 488.81,662.65 489.69,664.95 C490.57,667.25 486.68,676.01 489.69,678.76 C492.70,681.50 504.75,680.98 507.76,681.42" fill="none" stroke="#000" stroke-width="1.32" stroke-linejoin="round" stroke-linecap="round"/>
<path d="M489.69,678.76 C490.05,680.36 490.58,686.17 491.82,688.33 C493.06,690.49 496.25,691.16 497.13,691.73" fill="none" stroke="#000" stroke-width="1.20" stroke-linejoin="round" stroke-linecap="round"/>
<ellipse cx="500.85" cy="687.26" rx="2.0" ry="2.8" transform="rotate(25 500.85 687.26)" fill="none" stroke="#000" stroke-width="1.44"/>
<path d="M522.63,629.35 C521.57,629.97 518.38,631.39 516.26,633.07 C514.13,634.75 510.94,638.38 509.88,639.44" fill="none" stroke="#000" stroke-width="1.20" stroke-linejoin="round" stroke-linecap="round"/>
<path d="M539.64,642.84 C538.58,642.98 534.32,643.55 533.26,643.69" fill="none" stroke="#000" stroke-width="1.20" stroke-linejoin="round" stroke-linecap="round"/>
<ellipse cx="520.8" cy="656" rx="17.6" ry="22.8" transform="rotate(32 520.8 656)" fill="#fff" stroke="#000" stroke-width="1.80"/>
<ellipse cx="520.8" cy="656" rx="15.2" ry="20.2" transform="rotate(32 520.8 656)" fill="none" stroke="#000" stroke-width="1.20"/>
<ellipse cx="521.2" cy="655.6" rx="12.2" ry="17" transform="rotate(32 521.2 655.6)" fill="none" stroke="#000" stroke-width="1.56"/>
<path d="M512.01,645.82 C513.43,645.11 517.68,641.93 520.51,641.57 C523.34,641.22 526.80,642.45 529.01,643.69 C531.22,644.93 532.99,648.12 533.79,649.01" fill="none" stroke="#000" stroke-width="1.44" stroke-linejoin="round" stroke-linecap="round"/>
<ellipse cx="516.8" cy="654.5" rx="5.6" ry="9.2" transform="rotate(28 516.8 654.5)" fill="none" stroke="#000" stroke-width="1.56"/>
<ellipse cx="517.2" cy="655.5" rx="3.0" ry="6.0" transform="rotate(28 517.2 655.5)" fill="none" stroke="#000" stroke-width="1.32"/>
<path d="M529.01,645.82 C529.63,646.53 532.11,648.12 532.73,650.07 C533.35,652.02 533.35,655.03 532.73,657.51 C532.11,659.99 529.63,663.71 529.01,664.95" fill="none" stroke="#000" stroke-width="2.88" stroke-linejoin="round" stroke-linecap="round"/>
<path d="M508.82,660.70 C509.35,661.94 510.42,666.36 512.01,668.13 C513.60,669.90 516.25,670.97 518.38,671.32 C520.50,671.68 523.70,670.44 524.76,670.26" fill="none" stroke="#000" stroke-width="1.92" stroke-linejoin="round" stroke-linecap="round"/>
<path d="M531.13,659.63 C530.60,660.69 529.37,664.24 527.95,666.01 C526.53,667.78 523.52,669.55 522.63,670.26" fill="none" stroke="#000" stroke-width="1.20" stroke-linejoin="round" stroke-linecap="round"/>
<ellipse cx="540" cy="669.3" rx="7.2" ry="9.5" transform="rotate(30 540 669.3)" fill="#fff" stroke="#000" stroke-width="1.68"/>
<ellipse cx="540" cy="669.5" rx="4.1" ry="5.4" transform="rotate(30 540 669.5)" fill="none" stroke="#000" stroke-width="1.56"/>
<g transform="translate(552.5 675.5) rotate(30)">
<path d="M0,-9.6 L4.5,-9.6 A4.32,9.6 0 0 1 4.5,9.6 L0,9.6 A4.32,9.6 0 0 1 0,-9.6 Z" fill="#fff" stroke="#000" stroke-width="1.68" stroke-linejoin="round" stroke-linecap="round"/>
<ellipse cx="4.5" cy="0" rx="4.32" ry="9.6" transform="rotate(0 4.5 0)" fill="#fff" stroke="#000" stroke-width="1.68"/>
<ellipse cx="4.5" cy="0" rx="4.5360000000000005" ry="9.6" transform="rotate(0 4.5 0)" fill="#111" stroke="#000" stroke-width="1.80"/>
<ellipse cx="4.2" cy="-4.5" rx="0.8" ry="1.0" transform="rotate(0 4.2 -4.5)" fill="#ddd" stroke="#000" stroke-width="0.00"/>
<ellipse cx="4.4" cy="-1.5" rx="0.8" ry="1.0" transform="rotate(0 4.4 -1.5)" fill="#ddd" stroke="#000" stroke-width="0.00"/>
<ellipse cx="4.6" cy="1.5" rx="0.8" ry="1.0" transform="rotate(0 4.6 1.5)" fill="#ddd" stroke="#000" stroke-width="0.00"/>
<ellipse cx="4.8" cy="4.5" rx="0.8" ry="1.0" transform="rotate(0 4.8 4.5)" fill="#ddd" stroke="#000" stroke-width="0.00"/>
</g>
<path d="M562.42,693.27 L561.7,691.82 L561.28,690.16 L561.15,688.34 L561.33,686.43 L561.81,684.49 L562.57,682.61 L563.59,680.84 L564.83,679.24 L566.24,677.88 L567.78,676.81 L569.39,676.06 L571.0,675.65 L572.57,675.61 L574.04,675.94 L575.35,676.62 L576.46,677.63 L577.33,678.93 L577.92,680.48 L578.22,682.22 L578.21,684.09 L577.9,686.02 L577.29,687.94 L576.41,689.78 L575.29,691.48 L573.97,692.98 L572.5,694.22 L570.93,695.16 L569.31,695.76 L567.7,696.01 L566.17,695.89" fill="none" stroke="#000" stroke-width="2.64" stroke-linejoin="round" stroke-linecap="round"/>
<path d="M562.27,693.02 L561.61,691.55 L561.23,689.88 L561.16,688.06 L561.38,686.17 L561.89,684.26 L562.67,682.41 L563.71,680.67 L564.95,679.12 L566.35,677.79 L567.88,676.75 L569.47,676.03 L571.06,675.64 L572.61,675.62 L574.06,675.95 L575.35,676.62 L576.45,677.61 L577.31,678.9 L577.9,680.42 L578.21,682.13 L578.22,683.97 L577.93,685.87 L577.35,687.77 L576.51,689.61 L575.43,691.3 L574.14,692.81 L572.71,694.07 L571.16,695.04 L569.57,695.69 L567.98,695.99 L566.45,695.94" fill="none" stroke="#fff" stroke-width="0.6"/>
<ellipse cx="562.42" cy="693.27" rx="1.1" ry="1.1" transform="rotate(0 562.42 693.27)" fill="#000" stroke="#000" stroke-width="0.60"/>
<ellipse cx="566.17" cy="695.89" rx="1.1" ry="1.1" transform="rotate(0 566.17 695.89)" fill="#000" stroke="#000" stroke-width="0.60"/>
<g transform="translate(483.5 621) rotate(33)">
<path d="M0,-2.0 L9,-2.0 M0,2.0 L9,2.0" fill="none" stroke="#000" stroke-width="1.56" stroke-linejoin="round" stroke-linecap="round"/>
<ellipse cx="0" cy="0" rx="0.9" ry="2.0" transform="rotate(0 0 0)" fill="#fff" stroke="#000" stroke-width="1.56"/>
<ellipse cx="9" cy="0" rx="1.0" ry="2.0" transform="rotate(0 9 0)" fill="#fff" stroke="#000" stroke-width="1.68"/>
</g>
<path d="M472.5,701 L475.5,701 M473,704.5 L476,704.5 M472.8,708 L476,708" fill="none" stroke="#000" stroke-width="1.08" stroke-linejoin="round" stroke-linecap="round"/>
<path d="M474.3,701 L474.3,708" fill="none" stroke="#000" stroke-width="0.84" stroke-linejoin="round" stroke-linecap="round"/>
<ellipse cx="465" cy="715" rx="0.5" ry="0.5" transform="rotate(0 465 715)" fill="#000" stroke="#000" stroke-width="0.72"/>
<ellipse cx="474" cy="723" rx="0.5" ry="0.5" transform="rotate(0 474 723)" fill="#000" stroke="#000" stroke-width="0.72"/>
<text x="321" y="114.0" font-size="11">25</text>
<text x="338.5" y="121.0" font-size="11">26</text>
<text x="355.6" y="130.5" font-size="11">18</text>
<text x="279.4" y="181.0" font-size="11">32</text>
<text x="263.4" y="190.3" font-size="11">35</text>
<text x="248.4" y="198.7" font-size="11">34</text>
<text x="433" y="172.7" font-size="11">24</text>
<text x="332" y="249.0" font-size="11">33</text>
<text x="375.6" y="258.25" font-size="11">27</text>
<text x="508" y="217.2" font-size="11">23</text>
<text x="525.6" y="227.2" font-size="11">22</text>
<text x="544.4" y="236.0" font-size="11">21</text>
<text x="438.75" y="307.0" font-size="11">17</text>
<text x="271.7" y="284.7" font-size="11">19</text>
<text x="224" y="384.0" font-size="11">20</text>
<text x="275.5" y="393.7" font-size="11">21</text>
<text x="294" y="401.7" font-size="11">22</text>
<text x="313" y="414.1" font-size="11">23</text>
<text x="327" y="422.2" font-size="11">24</text>
<text x="381.25" y="342.2" font-size="11">27</text>
<text x="434.4" y="361.0" font-size="11">16</text>
<text x="455" y="376.0" font-size="11">28</text>
<text x="473.75" y="384.7" font-size="11">29</text>
<text x="316.25" y="462.0" font-size="11">30</text>
<text x="335" y="473.5" font-size="11">31</text>
<text x="406.25" y="467.2" font-size="11">27</text>
<text x="415.6" y="524.0" font-size="11">13</text>
<text x="443.75" y="539.5" font-size="11">14</text>
<text x="496.25" y="528.5" font-size="11">3</text>
<text x="516.25" y="537.2" font-size="11">15</text>
<text x="533.75" y="548.25" font-size="11">9</text>
<text x="238.75" y="578.25" font-size="11">2</text>
<text x="263.1" y="590.75" font-size="11">8</text>
<text x="283.1" y="602.0" font-size="11">7</text>
<text x="307.5" y="613.25" font-size="11">6</text>
<text x="377.5" y="531.0" font-size="11">4</text>
<text x="353.1" y="642.0" font-size="11">5</text>
<text x="393.1" y="663.25" font-size="11">6</text>
<text x="411.9" y="674.5" font-size="11">7</text>
<text x="430.6" y="683.25" font-size="11">8</text>
<text x="453.1" y="697.0" font-size="11">9</text>
<text x="498.75" y="592.2" font-size="11">15</text>
<text x="511.25" y="727.0" font-size="11">1</text>
<text x="571.9" y="648.25" font-size="11">11</text>
<text x="590.6" y="654.5" font-size="11">10</text>
<text x="605.6" y="663.25" font-size="11">12</text>
</svg></body></html>
